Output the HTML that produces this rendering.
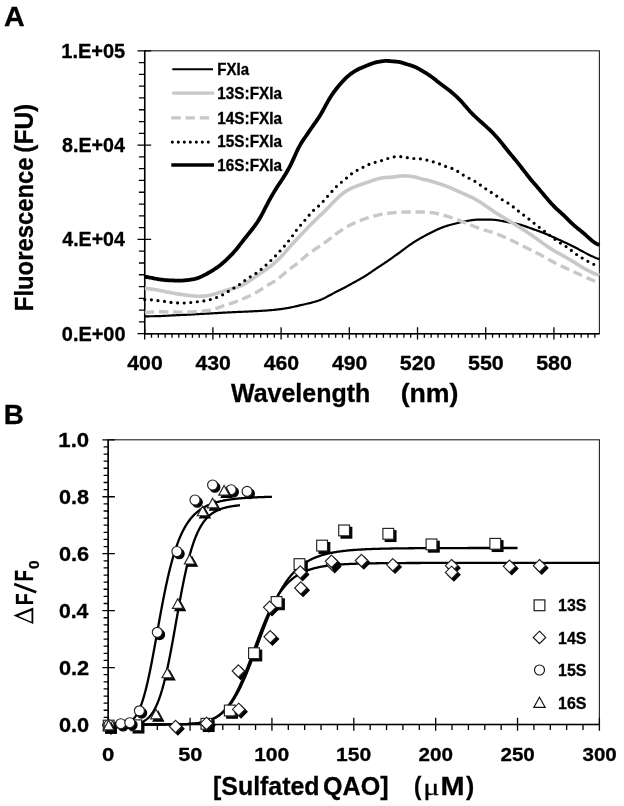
<!DOCTYPE html>
<html><head><meta charset="utf-8"><title>Fluorescence figure</title><style>
html,body{margin:0;padding:0;background:#fff;width:624px;height:806px;overflow:hidden}
svg{display:block;will-change:transform}
text{font-family:"Liberation Sans",sans-serif;font-weight:bold;fill:#000;stroke:#000;stroke-width:0.3px}
</style></head><body>
<svg width="624" height="806" viewBox="0 0 624 806">
<rect x="0" y="0" width="624" height="806" fill="#fff"/>
<text x="4.08" y="26" font-size="27.25" textLength="20.7" lengthAdjust="spacingAndGlyphs">A</text>
<rect x="144.7" y="50.8" width="454.7" height="282.9" fill="none" stroke="#222" stroke-width="1.1"/>
<path d="M137.5,333.7H151.2 M138.9,321.91H144.7 M138.9,310.12H144.7 M138.9,298.34H144.7 M138.9,286.55H144.7 M138.9,274.76H144.7 M138.9,262.98H144.7 M138.9,251.19H144.7 M137.5,239.4H151.2 M138.9,227.61H144.7 M138.9,215.82H144.7 M138.9,204.04H144.7 M138.9,192.25H144.7 M138.9,180.46H144.7 M138.9,168.67H144.7 M138.9,156.89H144.7 M137.5,145.1H151.2 M138.9,133.31H144.7 M138.9,121.53H144.7 M138.9,109.74H144.7 M138.9,97.95H144.7 M138.9,86.16H144.7 M138.9,74.38H144.7 M138.9,62.59H144.7 M137.5,50.8H151.2 M144.7,327.2V339.5 M151.52,333.7V337.7 M158.34,333.7V337.7 M165.16,333.7V337.7 M171.98,333.7V337.7 M178.8,333.7V337.7 M185.62,333.7V337.7 M192.44,333.7V337.7 M199.26,333.7V337.7 M206.08,333.7V337.7 M212.9,327.2V339.5 M219.73,333.7V337.7 M226.55,333.7V337.7 M233.37,333.7V337.7 M240.19,333.7V337.7 M247.01,333.7V337.7 M253.83,333.7V337.7 M260.65,333.7V337.7 M267.47,333.7V337.7 M274.29,333.7V337.7 M281.11,327.2V339.5 M287.93,333.7V337.7 M294.75,333.7V337.7 M301.57,333.7V337.7 M308.39,333.7V337.7 M315.21,333.7V337.7 M322.03,333.7V337.7 M328.85,333.7V337.7 M335.67,333.7V337.7 M342.49,333.7V337.7 M349.31,327.2V339.5 M356.14,333.7V337.7 M362.96,333.7V337.7 M369.78,333.7V337.7 M376.6,333.7V337.7 M383.42,333.7V337.7 M390.24,333.7V337.7 M397.06,333.7V337.7 M403.88,333.7V337.7 M410.7,333.7V337.7 M417.52,327.2V339.5 M424.34,333.7V337.7 M431.16,333.7V337.7 M437.98,333.7V337.7 M444.8,333.7V337.7 M451.62,333.7V337.7 M458.44,333.7V337.7 M465.26,333.7V337.7 M472.08,333.7V337.7 M478.9,333.7V337.7 M485.72,327.2V339.5 M492.55,333.7V337.7 M499.37,333.7V337.7 M506.19,333.7V337.7 M513.01,333.7V337.7 M519.83,333.7V337.7 M526.65,333.7V337.7 M533.47,333.7V337.7 M540.29,333.7V337.7 M547.11,333.7V337.7 M553.93,327.2V339.5 M560.75,333.7V337.7 M567.57,333.7V337.7 M574.39,333.7V337.7 M581.21,333.7V337.7 M588.03,333.7V337.7 M594.85,333.7V337.7" stroke="#000" stroke-width="1.3" fill="none"/>
<path d="M144.7,50.8V333.7H599.4" stroke="#000" stroke-width="1.5" fill="none"/>
<text x="61.8" y="340.6" font-size="19.29" textLength="63.74" lengthAdjust="spacingAndGlyphs">0.E+00</text>
<text x="62.31" y="246.3" font-size="19.29" textLength="62.54" lengthAdjust="spacingAndGlyphs">4.E+04</text>
<text x="62.01" y="152" font-size="19.29" textLength="62.83" lengthAdjust="spacingAndGlyphs">8.E+04</text>
<text x="61.3" y="57.7" font-size="19.29" textLength="63.95" lengthAdjust="spacingAndGlyphs">1.E+05</text>
<text x="127.28" y="369.5" font-size="19.86" textLength="35.44" lengthAdjust="spacingAndGlyphs">400</text>
<text x="195.49" y="369.5" font-size="19.86" textLength="35.44" lengthAdjust="spacingAndGlyphs">430</text>
<text x="263.69" y="369.5" font-size="19.86" textLength="35.44" lengthAdjust="spacingAndGlyphs">460</text>
<text x="331.9" y="369.5" font-size="19.86" textLength="35.44" lengthAdjust="spacingAndGlyphs">490</text>
<text x="399.78" y="369.5" font-size="19.86" textLength="35.78" lengthAdjust="spacingAndGlyphs">520</text>
<text x="467.98" y="369.5" font-size="19.86" textLength="35.78" lengthAdjust="spacingAndGlyphs">550</text>
<text x="536.19" y="369.5" font-size="19.86" textLength="35.78" lengthAdjust="spacingAndGlyphs">580</text>
<text x="231" y="401.8" font-size="26.09" textLength="139.3" lengthAdjust="spacingAndGlyphs">Wavelength</text>
<text x="400.66" y="401.8" font-size="26.09" textLength="57.87" lengthAdjust="spacingAndGlyphs">(nm)</text>
<text transform="translate(32.5,309.6) rotate(-90)" x="-1.55" y="0" font-size="26.2" textLength="153.74" lengthAdjust="spacingAndGlyphs">Fluorescence</text>
<text transform="translate(32.5,151.5) rotate(-90)" x="-1.22" y="0" font-size="26.2" textLength="48.93" lengthAdjust="spacingAndGlyphs">(FU)</text>
<text x="217.33" y="75.1" font-size="16.38" textLength="31.65" lengthAdjust="spacingAndGlyphs">FXIa</text>
<text x="217.3" y="99" font-size="16.38" textLength="64.73" lengthAdjust="spacingAndGlyphs">13S:FXIa</text>
<text x="217.3" y="123.5" font-size="16.38" textLength="64.73" lengthAdjust="spacingAndGlyphs">14S:FXIa</text>
<text x="217.3" y="147.4" font-size="16.38" textLength="64.73" lengthAdjust="spacingAndGlyphs">15S:FXIa</text>
<text x="217.3" y="171.2" font-size="16.38" textLength="64.73" lengthAdjust="spacingAndGlyphs">16S:FXIa</text>
<path d="M172.3,69.2H213" stroke="#000" stroke-width="2" fill="none"/>
<path d="M172.3,93.1H214" stroke="#c8c8c8" stroke-width="3.4" fill="none"/>
<path d="M171.3,117.9H210" stroke="#c8c8c8" stroke-width="3.4" fill="none" stroke-dasharray="9.4 4.8"/>
<path d="M172.3,142.1H208.5" stroke="#000" stroke-width="3.1" fill="none" stroke-dasharray="0 6" stroke-linecap="round"/>
<path d="M171.3,165.0H214" stroke="#000" stroke-width="3.6" fill="none"/>
<g fill="none" stroke-linejoin="round">
<path d="M144.8,316.29 L145.8,316.29 L146.8,316.29 L147.8,316.29 L148.8,316.28 L149.8,316.27 L150.8,316.27 L151.8,316.26 L152.8,316.25 L153.8,316.24 L154.8,316.22 L155.8,316.21 L156.8,316.19 L157.8,316.16 L158.8,316.13 L159.8,316.1 L160.8,316.06 L161.8,316.01 L162.8,315.97 L163.8,315.91 L164.8,315.85 L165.8,315.79 L166.8,315.73 L167.8,315.67 L168.8,315.61 L169.8,315.55 L170.8,315.49 L171.8,315.44 L172.8,315.39 L173.8,315.34 L174.8,315.29 L175.8,315.24 L176.8,315.2 L177.8,315.15 L178.8,315.11 L179.8,315.07 L180.8,315.02 L181.8,314.98 L182.8,314.94 L183.8,314.89 L184.8,314.84 L185.8,314.79 L186.8,314.75 L187.8,314.69 L188.8,314.64 L189.8,314.59 L190.8,314.53 L191.8,314.48 L192.8,314.42 L193.8,314.36 L194.8,314.3 L195.8,314.25 L196.8,314.19 L197.8,314.13 L198.8,314.07 L199.8,314.02 L200.8,313.96 L201.8,313.91 L202.8,313.85 L203.8,313.8 L204.8,313.75 L205.8,313.69 L206.8,313.64 L207.8,313.59 L208.8,313.53 L209.8,313.48 L210.8,313.42 L211.8,313.37 L212.8,313.32 L213.8,313.26 L214.8,313.2 L215.8,313.14 L216.8,313.09 L217.8,313.03 L218.8,312.97 L219.8,312.91 L220.8,312.84 L221.8,312.78 L222.8,312.72 L223.8,312.66 L224.8,312.6 L225.8,312.54 L226.8,312.49 L227.8,312.43 L228.8,312.38 L229.8,312.33 L230.8,312.28 L231.8,312.23 L232.8,312.18 L233.8,312.14 L234.8,312.09 L235.8,312.05 L236.8,312.01 L237.8,311.97 L238.8,311.93 L239.8,311.89 L240.8,311.85 L241.8,311.81 L242.8,311.77 L243.8,311.73 L244.8,311.69 L245.8,311.64 L246.8,311.6 L247.8,311.56 L248.8,311.51 L249.8,311.47 L250.8,311.42 L251.8,311.37 L252.8,311.32 L253.8,311.27 L254.8,311.22 L255.8,311.17 L256.8,311.12 L257.8,311.07 L258.8,311.01 L259.8,310.95 L260.8,310.9 L261.8,310.84 L262.8,310.77 L263.8,310.71 L264.8,310.64 L265.8,310.57 L266.8,310.5 L267.8,310.43 L268.8,310.35 L269.8,310.26 L270.8,310.18 L271.8,310.09 L272.8,309.99 L273.8,309.89 L274.8,309.79 L275.8,309.68 L276.8,309.57 L277.8,309.45 L278.8,309.33 L279.8,309.2 L280.8,309.07 L281.8,308.94 L282.8,308.8 L283.8,308.65 L284.8,308.5 L285.8,308.34 L286.8,308.17 L287.8,308 L288.8,307.82 L289.8,307.62 L290.8,307.42 L291.8,307.21 L292.8,306.99 L293.8,306.77 L294.8,306.54 L295.8,306.31 L296.8,306.08 L297.8,305.84 L298.8,305.61 L299.8,305.38 L300.8,305.15 L301.8,304.93 L302.8,304.7 L303.8,304.48 L304.8,304.25 L305.8,304.02 L306.8,303.79 L307.8,303.55 L308.8,303.31 L309.8,303.07 L310.8,302.82 L311.8,302.57 L312.8,302.31 L313.8,302.03 L314.8,301.75 L315.8,301.46 L316.8,301.16 L317.8,300.83 L318.8,300.49 L319.8,300.12 L320.8,299.73 L321.8,299.32 L322.8,298.87 L323.8,298.4 L324.8,297.91 L325.8,297.39 L326.8,296.86 L327.8,296.32 L328.8,295.78 L329.8,295.23 L330.8,294.69 L331.8,294.16 L332.8,293.63 L333.8,293.11 L334.8,292.6 L335.8,292.1 L336.8,291.59 L337.8,291.09 L338.8,290.59 L339.8,290.08 L340.8,289.57 L341.8,289.06 L342.8,288.54 L343.8,288.01 L344.8,287.48 L345.8,286.94 L346.8,286.4 L347.8,285.85 L348.8,285.3 L349.8,284.75 L350.8,284.19 L351.8,283.63 L352.8,283.08 L353.8,282.53 L354.8,281.97 L355.8,281.42 L356.8,280.87 L357.8,280.32 L358.8,279.77 L359.8,279.21 L360.8,278.65 L361.8,278.08 L362.8,277.5 L363.8,276.91 L364.8,276.3 L365.8,275.68 L366.8,275.04 L367.8,274.38 L368.8,273.71 L369.8,273.03 L370.8,272.34 L371.8,271.64 L372.8,270.95 L373.8,270.25 L374.8,269.57 L375.8,268.88 L376.8,268.21 L377.8,267.53 L378.8,266.87 L379.8,266.21 L380.8,265.55 L381.8,264.89 L382.8,264.22 L383.8,263.56 L384.8,262.89 L385.8,262.22 L386.8,261.54 L387.8,260.86 L388.8,260.17 L389.8,259.48 L390.8,258.79 L391.8,258.08 L392.8,257.38 L393.8,256.66 L394.8,255.94 L395.8,255.22 L396.8,254.49 L397.8,253.75 L398.8,253.01 L399.8,252.27 L400.8,251.52 L401.8,250.78 L402.8,250.03 L403.8,249.28 L404.8,248.53 L405.8,247.79 L406.8,247.06 L407.8,246.34 L408.8,245.63 L409.8,244.93 L410.8,244.24 L411.8,243.57 L412.8,242.91 L413.8,242.27 L414.8,241.64 L415.8,241.02 L416.8,240.41 L417.8,239.81 L418.8,239.22 L419.8,238.64 L420.8,238.07 L421.8,237.5 L422.8,236.95 L423.8,236.4 L424.8,235.86 L425.8,235.32 L426.8,234.79 L427.8,234.27 L428.8,233.75 L429.8,233.23 L430.8,232.72 L431.8,232.22 L432.8,231.72 L433.8,231.22 L434.8,230.73 L435.8,230.25 L436.8,229.78 L437.8,229.31 L438.8,228.87 L439.8,228.43 L440.8,228.01 L441.8,227.61 L442.8,227.23 L443.8,226.87 L444.8,226.52 L445.8,226.19 L446.8,225.88 L447.8,225.58 L448.8,225.29 L449.8,225.01 L450.8,224.74 L451.8,224.47 L452.8,224.21 L453.8,223.96 L454.8,223.71 L455.8,223.46 L456.8,223.21 L457.8,222.96 L458.8,222.72 L459.8,222.49 L460.8,222.26 L461.8,222.03 L462.8,221.82 L463.8,221.61 L464.8,221.4 L465.8,221.21 L466.8,221.02 L467.8,220.84 L468.8,220.67 L469.8,220.5 L470.8,220.35 L471.8,220.21 L472.8,220.08 L473.8,219.96 L474.8,219.86 L475.8,219.77 L476.8,219.7 L477.8,219.64 L478.8,219.6 L479.8,219.57 L480.8,219.55 L481.8,219.54 L482.8,219.54 L483.8,219.54 L484.8,219.55 L485.8,219.56 L486.8,219.57 L487.8,219.58 L488.8,219.6 L489.8,219.62 L490.8,219.65 L491.8,219.69 L492.8,219.74 L493.8,219.8 L494.8,219.88 L495.8,219.98 L496.8,220.1 L497.8,220.24 L498.8,220.4 L499.8,220.58 L500.8,220.78 L501.8,220.98 L502.8,221.19 L503.8,221.39 L504.8,221.6 L505.8,221.79 L506.8,221.98 L507.8,222.16 L508.8,222.33 L509.8,222.5 L510.8,222.66 L511.8,222.83 L512.8,222.99 L513.8,223.17 L514.8,223.35 L515.8,223.55 L516.8,223.76 L517.8,224 L518.8,224.25 L519.8,224.53 L520.8,224.83 L521.8,225.14 L522.8,225.47 L523.8,225.81 L524.8,226.16 L525.8,226.51 L526.8,226.87 L527.8,227.23 L528.8,227.59 L529.8,227.94 L530.8,228.3 L531.8,228.65 L532.8,229 L533.8,229.35 L534.8,229.7 L535.8,230.06 L536.8,230.42 L537.8,230.78 L538.8,231.14 L539.8,231.52 L540.8,231.89 L541.8,232.28 L542.8,232.67 L543.8,233.06 L544.8,233.46 L545.8,233.87 L546.8,234.29 L547.8,234.71 L548.8,235.13 L549.8,235.57 L550.8,236.01 L551.8,236.45 L552.8,236.9 L553.8,237.36 L554.8,237.81 L555.8,238.27 L556.8,238.74 L557.8,239.2 L558.8,239.66 L559.8,240.12 L560.8,240.58 L561.8,241.04 L562.8,241.49 L563.8,241.94 L564.8,242.39 L565.8,242.84 L566.8,243.3 L567.8,243.76 L568.8,244.22 L569.8,244.69 L570.8,245.18 L571.8,245.67 L572.8,246.17 L573.8,246.68 L574.8,247.21 L575.8,247.74 L576.8,248.28 L577.8,248.83 L578.8,249.38 L579.8,249.93 L580.8,250.48 L581.8,251.02 L582.8,251.56 L583.8,252.1 L584.8,252.62 L585.8,253.15 L586.8,253.66 L587.8,254.18 L588.8,254.68 L589.8,255.18 L590.8,255.67 L591.8,256.15 L592.8,256.62 L593.8,257.08 L594.8,257.51 L595.8,257.92 L596.8,258.29 L597.8,258.62 L598.8,258.91 L599.4,259.15 L599.4,259.15" stroke="#000" stroke-width="2.2"/>
<path d="M144.8,288.33 L145.8,288.41 L146.8,288.49 L147.8,288.59 L148.8,288.7 L149.8,288.82 L150.8,288.96 L151.8,289.1 L152.8,289.25 L153.8,289.4 L154.8,289.57 L155.8,289.74 L156.8,289.91 L157.8,290.1 L158.8,290.29 L159.8,290.48 L160.8,290.68 L161.8,290.89 L162.8,291.09 L163.8,291.3 L164.8,291.51 L165.8,291.72 L166.8,291.92 L167.8,292.13 L168.8,292.33 L169.8,292.53 L170.8,292.72 L171.8,292.91 L172.8,293.09 L173.8,293.27 L174.8,293.44 L175.8,293.61 L176.8,293.78 L177.8,293.94 L178.8,294.1 L179.8,294.25 L180.8,294.4 L181.8,294.55 L182.8,294.69 L183.8,294.83 L184.8,294.96 L185.8,295.09 L186.8,295.22 L187.8,295.34 L188.8,295.46 L189.8,295.57 L190.8,295.68 L191.8,295.78 L192.8,295.88 L193.8,295.97 L194.8,296.05 L195.8,296.13 L196.8,296.18 L197.8,296.23 L198.8,296.26 L199.8,296.27 L200.8,296.26 L201.8,296.22 L202.8,296.17 L203.8,296.1 L204.8,296 L205.8,295.88 L206.8,295.75 L207.8,295.59 L208.8,295.41 L209.8,295.21 L210.8,295 L211.8,294.76 L212.8,294.51 L213.8,294.24 L214.8,293.96 L215.8,293.67 L216.8,293.36 L217.8,293.04 L218.8,292.72 L219.8,292.4 L220.8,292.07 L221.8,291.75 L222.8,291.42 L223.8,291.1 L224.8,290.79 L225.8,290.48 L226.8,290.18 L227.8,289.89 L228.8,289.6 L229.8,289.32 L230.8,289.05 L231.8,288.77 L232.8,288.49 L233.8,288.21 L234.8,287.92 L235.8,287.61 L236.8,287.29 L237.8,286.94 L238.8,286.57 L239.8,286.17 L240.8,285.74 L241.8,285.28 L242.8,284.78 L243.8,284.25 L244.8,283.69 L245.8,283.11 L246.8,282.5 L247.8,281.87 L248.8,281.23 L249.8,280.57 L250.8,279.9 L251.8,279.22 L252.8,278.53 L253.8,277.84 L254.8,277.15 L255.8,276.45 L256.8,275.76 L257.8,275.08 L258.8,274.4 L259.8,273.72 L260.8,273.05 L261.8,272.38 L262.8,271.71 L263.8,271.04 L264.8,270.37 L265.8,269.69 L266.8,268.99 L267.8,268.28 L268.8,267.56 L269.8,266.81 L270.8,266.04 L271.8,265.25 L272.8,264.44 L273.8,263.6 L274.8,262.74 L275.8,261.86 L276.8,260.95 L277.8,260.01 L278.8,259.05 L279.8,258.06 L280.8,257.04 L281.8,255.99 L282.8,254.92 L283.8,253.81 L284.8,252.68 L285.8,251.54 L286.8,250.37 L287.8,249.2 L288.8,248.04 L289.8,246.88 L290.8,245.73 L291.8,244.61 L292.8,243.5 L293.8,242.41 L294.8,241.34 L295.8,240.29 L296.8,239.24 L297.8,238.2 L298.8,237.16 L299.8,236.11 L300.8,235.06 L301.8,234 L302.8,232.94 L303.8,231.88 L304.8,230.81 L305.8,229.75 L306.8,228.69 L307.8,227.64 L308.8,226.6 L309.8,225.58 L310.8,224.56 L311.8,223.56 L312.8,222.58 L313.8,221.6 L314.8,220.63 L315.8,219.67 L316.8,218.71 L317.8,217.76 L318.8,216.81 L319.8,215.85 L320.8,214.9 L321.8,213.94 L322.8,212.97 L323.8,211.99 L324.8,211.01 L325.8,210.01 L326.8,208.99 L327.8,207.97 L328.8,206.93 L329.8,205.89 L330.8,204.85 L331.8,203.8 L332.8,202.76 L333.8,201.73 L334.8,200.71 L335.8,199.71 L336.8,198.74 L337.8,197.78 L338.8,196.86 L339.8,195.96 L340.8,195.1 L341.8,194.28 L342.8,193.49 L343.8,192.74 L344.8,192.03 L345.8,191.36 L346.8,190.73 L347.8,190.14 L348.8,189.58 L349.8,189.05 L350.8,188.55 L351.8,188.08 L352.8,187.64 L353.8,187.21 L354.8,186.8 L355.8,186.41 L356.8,186.03 L357.8,185.66 L358.8,185.3 L359.8,184.95 L360.8,184.6 L361.8,184.26 L362.8,183.91 L363.8,183.57 L364.8,183.22 L365.8,182.86 L366.8,182.51 L367.8,182.15 L368.8,181.8 L369.8,181.44 L370.8,181.09 L371.8,180.74 L372.8,180.4 L373.8,180.07 L374.8,179.75 L375.8,179.44 L376.8,179.15 L377.8,178.87 L378.8,178.61 L379.8,178.38 L380.8,178.17 L381.8,177.99 L382.8,177.84 L383.8,177.72 L384.8,177.63 L385.8,177.55 L386.8,177.49 L387.8,177.43 L388.8,177.37 L389.8,177.31 L390.8,177.23 L391.8,177.13 L392.8,177.02 L393.8,176.9 L394.8,176.77 L395.8,176.63 L396.8,176.5 L397.8,176.37 L398.8,176.25 L399.8,176.15 L400.8,176.06 L401.8,175.99 L402.8,175.94 L403.8,175.91 L404.8,175.9 L405.8,175.91 L406.8,175.94 L407.8,175.99 L408.8,176.07 L409.8,176.17 L410.8,176.29 L411.8,176.44 L412.8,176.62 L413.8,176.82 L414.8,177.05 L415.8,177.3 L416.8,177.56 L417.8,177.83 L418.8,178.11 L419.8,178.39 L420.8,178.66 L421.8,178.92 L422.8,179.17 L423.8,179.41 L424.8,179.64 L425.8,179.87 L426.8,180.09 L427.8,180.33 L428.8,180.57 L429.8,180.84 L430.8,181.11 L431.8,181.41 L432.8,181.72 L433.8,182.03 L434.8,182.36 L435.8,182.68 L436.8,183 L437.8,183.32 L438.8,183.63 L439.8,183.94 L440.8,184.26 L441.8,184.57 L442.8,184.89 L443.8,185.23 L444.8,185.58 L445.8,185.95 L446.8,186.33 L447.8,186.73 L448.8,187.15 L449.8,187.57 L450.8,188 L451.8,188.44 L452.8,188.88 L453.8,189.32 L454.8,189.77 L455.8,190.22 L456.8,190.66 L457.8,191.11 L458.8,191.56 L459.8,192.01 L460.8,192.46 L461.8,192.91 L462.8,193.36 L463.8,193.8 L464.8,194.25 L465.8,194.69 L466.8,195.14 L467.8,195.58 L468.8,196.04 L469.8,196.5 L470.8,196.97 L471.8,197.45 L472.8,197.95 L473.8,198.46 L474.8,198.99 L475.8,199.54 L476.8,200.11 L477.8,200.7 L478.8,201.31 L479.8,201.93 L480.8,202.57 L481.8,203.23 L482.8,203.89 L483.8,204.57 L484.8,205.25 L485.8,205.94 L486.8,206.63 L487.8,207.33 L488.8,208.02 L489.8,208.72 L490.8,209.41 L491.8,210.1 L492.8,210.79 L493.8,211.46 L494.8,212.13 L495.8,212.79 L496.8,213.44 L497.8,214.08 L498.8,214.71 L499.8,215.33 L500.8,215.94 L501.8,216.55 L502.8,217.16 L503.8,217.76 L504.8,218.36 L505.8,218.96 L506.8,219.56 L507.8,220.15 L508.8,220.75 L509.8,221.35 L510.8,221.94 L511.8,222.54 L512.8,223.14 L513.8,223.75 L514.8,224.36 L515.8,224.97 L516.8,225.58 L517.8,226.2 L518.8,226.82 L519.8,227.45 L520.8,228.08 L521.8,228.72 L522.8,229.36 L523.8,230.01 L524.8,230.66 L525.8,231.32 L526.8,231.98 L527.8,232.65 L528.8,233.32 L529.8,233.99 L530.8,234.67 L531.8,235.35 L532.8,236.04 L533.8,236.73 L534.8,237.43 L535.8,238.14 L536.8,238.84 L537.8,239.56 L538.8,240.27 L539.8,240.99 L540.8,241.72 L541.8,242.44 L542.8,243.17 L543.8,243.89 L544.8,244.61 L545.8,245.32 L546.8,246.02 L547.8,246.71 L548.8,247.39 L549.8,248.05 L550.8,248.69 L551.8,249.32 L552.8,249.93 L553.8,250.53 L554.8,251.12 L555.8,251.69 L556.8,252.26 L557.8,252.82 L558.8,253.38 L559.8,253.93 L560.8,254.49 L561.8,255.04 L562.8,255.59 L563.8,256.14 L564.8,256.7 L565.8,257.26 L566.8,257.82 L567.8,258.39 L568.8,258.96 L569.8,259.55 L570.8,260.14 L571.8,260.74 L572.8,261.35 L573.8,261.97 L574.8,262.6 L575.8,263.23 L576.8,263.87 L577.8,264.51 L578.8,265.15 L579.8,265.78 L580.8,266.4 L581.8,267.02 L582.8,267.62 L583.8,268.21 L584.8,268.79 L585.8,269.36 L586.8,269.91 L587.8,270.45 L588.8,270.97 L589.8,271.49 L590.8,271.98 L591.8,272.47 L592.8,272.93 L593.8,273.37 L594.8,273.78 L595.8,274.16 L596.8,274.51 L597.8,274.81 L598.8,275.08 L599.4,275.31 L599.4,275.31" stroke="#c8c8c8" stroke-width="3.6"/>
<path d="M144.8,312.45 L145.8,312.4 L146.8,312.34 L147.8,312.28 L148.8,312.21 L149.8,312.15 L150.8,312.08 L151.8,312.02 L152.8,311.96 L153.8,311.91 L154.8,311.87 L155.8,311.83 L156.8,311.8 L157.8,311.78 L158.8,311.77 L159.8,311.76 L160.8,311.76 L161.8,311.77 L162.8,311.78 L163.8,311.8 L164.8,311.82 L165.8,311.84 L166.8,311.86 L167.8,311.89 L168.8,311.91 L169.8,311.94 L170.8,311.96 L171.8,311.99 L172.8,312.01 L173.8,312.03 L174.8,312.05 L175.8,312.07 L176.8,312.09 L177.8,312.11 L178.8,312.12 L179.8,312.13 L180.8,312.14 L181.8,312.15 L182.8,312.15 L183.8,312.15 L184.8,312.14 L185.8,312.13 L186.8,312.11 L187.8,312.08 L188.8,312.04 L189.8,312 L190.8,311.95 L191.8,311.89 L192.8,311.83 L193.8,311.76 L194.8,311.7 L195.8,311.62 L196.8,311.55 L197.8,311.47 L198.8,311.39 L199.8,311.32 L200.8,311.24 L201.8,311.15 L202.8,311.07 L203.8,310.98 L204.8,310.88 L205.8,310.78 L206.8,310.67 L207.8,310.54 L208.8,310.4 L209.8,310.24 L210.8,310.05 L211.8,309.84 L212.8,309.59 L213.8,309.32 L214.8,309.01 L215.8,308.68 L216.8,308.33 L217.8,307.96 L218.8,307.57 L219.8,307.19 L220.8,306.81 L221.8,306.43 L222.8,306.06 L223.8,305.71 L224.8,305.37 L225.8,305.04 L226.8,304.72 L227.8,304.41 L228.8,304.1 L229.8,303.79 L230.8,303.48 L231.8,303.16 L232.8,302.83 L233.8,302.49 L234.8,302.14 L235.8,301.77 L236.8,301.39 L237.8,300.99 L238.8,300.59 L239.8,300.17 L240.8,299.75 L241.8,299.33 L242.8,298.9 L243.8,298.47 L244.8,298.04 L245.8,297.61 L246.8,297.17 L247.8,296.73 L248.8,296.28 L249.8,295.82 L250.8,295.35 L251.8,294.86 L252.8,294.36 L253.8,293.83 L254.8,293.28 L255.8,292.71 L256.8,292.12 L257.8,291.52 L258.8,290.89 L259.8,290.25 L260.8,289.6 L261.8,288.95 L262.8,288.29 L263.8,287.63 L264.8,286.99 L265.8,286.36 L266.8,285.75 L267.8,285.15 L268.8,284.57 L269.8,284 L270.8,283.44 L271.8,282.88 L272.8,282.3 L273.8,281.7 L274.8,281.07 L275.8,280.41 L276.8,279.71 L277.8,278.97 L278.8,278.2 L279.8,277.39 L280.8,276.56 L281.8,275.71 L282.8,274.84 L283.8,273.96 L284.8,273.09 L285.8,272.22 L286.8,271.37 L287.8,270.54 L288.8,269.73 L289.8,268.95 L290.8,268.2 L291.8,267.46 L292.8,266.73 L293.8,266.01 L294.8,265.27 L295.8,264.52 L296.8,263.74 L297.8,262.92 L298.8,262.08 L299.8,261.22 L300.8,260.34 L301.8,259.45 L302.8,258.56 L303.8,257.69 L304.8,256.83 L305.8,256 L306.8,255.2 L307.8,254.42 L308.8,253.67 L309.8,252.93 L310.8,252.22 L311.8,251.51 L312.8,250.82 L313.8,250.13 L314.8,249.45 L315.8,248.77 L316.8,248.1 L317.8,247.42 L318.8,246.75 L319.8,246.07 L320.8,245.39 L321.8,244.7 L322.8,244.01 L323.8,243.3 L324.8,242.59 L325.8,241.86 L326.8,241.12 L327.8,240.36 L328.8,239.6 L329.8,238.83 L330.8,238.05 L331.8,237.28 L332.8,236.5 L333.8,235.73 L334.8,234.97 L335.8,234.21 L336.8,233.47 L337.8,232.74 L338.8,232.03 L339.8,231.33 L340.8,230.64 L341.8,229.97 L342.8,229.32 L343.8,228.68 L344.8,228.06 L345.8,227.46 L346.8,226.89 L347.8,226.32 L348.8,225.78 L349.8,225.26 L350.8,224.75 L351.8,224.26 L352.8,223.78 L353.8,223.31 L354.8,222.85 L355.8,222.4 L356.8,221.97 L357.8,221.54 L358.8,221.12 L359.8,220.71 L360.8,220.31 L361.8,219.92 L362.8,219.53 L363.8,219.16 L364.8,218.8 L365.8,218.46 L366.8,218.12 L367.8,217.79 L368.8,217.47 L369.8,217.16 L370.8,216.87 L371.8,216.58 L372.8,216.3 L373.8,216.04 L374.8,215.78 L375.8,215.53 L376.8,215.3 L377.8,215.08 L378.8,214.87 L379.8,214.67 L380.8,214.47 L381.8,214.29 L382.8,214.12 L383.8,213.96 L384.8,213.8 L385.8,213.65 L386.8,213.51 L387.8,213.38 L388.8,213.26 L389.8,213.14 L390.8,213.03 L391.8,212.92 L392.8,212.82 L393.8,212.72 L394.8,212.63 L395.8,212.55 L396.8,212.47 L397.8,212.4 L398.8,212.33 L399.8,212.27 L400.8,212.21 L401.8,212.16 L402.8,212.12 L403.8,212.09 L404.8,212.06 L405.8,212.04 L406.8,212.03 L407.8,212.02 L408.8,212.01 L409.8,212.01 L410.8,212 L411.8,212 L412.8,212 L413.8,212 L414.8,212 L415.8,212.01 L416.8,212.01 L417.8,212.02 L418.8,212.02 L419.8,212.03 L420.8,212.05 L421.8,212.06 L422.8,212.09 L423.8,212.11 L424.8,212.14 L425.8,212.18 L426.8,212.23 L427.8,212.28 L428.8,212.35 L429.8,212.43 L430.8,212.53 L431.8,212.65 L432.8,212.79 L433.8,212.94 L434.8,213.11 L435.8,213.3 L436.8,213.51 L437.8,213.73 L438.8,213.96 L439.8,214.2 L440.8,214.45 L441.8,214.71 L442.8,214.98 L443.8,215.25 L444.8,215.54 L445.8,215.83 L446.8,216.13 L447.8,216.44 L448.8,216.75 L449.8,217.08 L450.8,217.41 L451.8,217.75 L452.8,218.09 L453.8,218.44 L454.8,218.8 L455.8,219.17 L456.8,219.54 L457.8,219.91 L458.8,220.3 L459.8,220.68 L460.8,221.07 L461.8,221.46 L462.8,221.86 L463.8,222.25 L464.8,222.65 L465.8,223.05 L466.8,223.45 L467.8,223.85 L468.8,224.25 L469.8,224.66 L470.8,225.06 L471.8,225.46 L472.8,225.86 L473.8,226.26 L474.8,226.65 L475.8,227.04 L476.8,227.42 L477.8,227.8 L478.8,228.16 L479.8,228.52 L480.8,228.86 L481.8,229.19 L482.8,229.52 L483.8,229.83 L484.8,230.13 L485.8,230.43 L486.8,230.73 L487.8,231.02 L488.8,231.32 L489.8,231.62 L490.8,231.92 L491.8,232.23 L492.8,232.55 L493.8,232.88 L494.8,233.23 L495.8,233.59 L496.8,233.96 L497.8,234.34 L498.8,234.73 L499.8,235.14 L500.8,235.55 L501.8,235.98 L502.8,236.41 L503.8,236.85 L504.8,237.3 L505.8,237.75 L506.8,238.21 L507.8,238.68 L508.8,239.15 L509.8,239.62 L510.8,240.09 L511.8,240.57 L512.8,241.05 L513.8,241.53 L514.8,242.02 L515.8,242.51 L516.8,242.99 L517.8,243.48 L518.8,243.97 L519.8,244.47 L520.8,244.96 L521.8,245.46 L522.8,245.95 L523.8,246.45 L524.8,246.95 L525.8,247.44 L526.8,247.94 L527.8,248.44 L528.8,248.93 L529.8,249.43 L530.8,249.92 L531.8,250.42 L532.8,250.92 L533.8,251.42 L534.8,251.92 L535.8,252.43 L536.8,252.95 L537.8,253.47 L538.8,254 L539.8,254.53 L540.8,255.08 L541.8,255.63 L542.8,256.19 L543.8,256.75 L544.8,257.32 L545.8,257.88 L546.8,258.45 L547.8,259.01 L548.8,259.56 L549.8,260.11 L550.8,260.66 L551.8,261.19 L552.8,261.72 L553.8,262.24 L554.8,262.75 L555.8,263.26 L556.8,263.76 L557.8,264.26 L558.8,264.75 L559.8,265.24 L560.8,265.73 L561.8,266.21 L562.8,266.68 L563.8,267.16 L564.8,267.63 L565.8,268.09 L566.8,268.56 L567.8,269.02 L568.8,269.47 L569.8,269.93 L570.8,270.39 L571.8,270.84 L572.8,271.29 L573.8,271.75 L574.8,272.21 L575.8,272.67 L576.8,273.13 L577.8,273.59 L578.8,274.05 L579.8,274.51 L580.8,274.98 L581.8,275.44 L582.8,275.9 L583.8,276.36 L584.8,276.82 L585.8,277.28 L586.8,277.73 L587.8,278.19 L588.8,278.63 L589.8,279.07 L590.8,279.51 L591.8,279.94 L592.8,280.36 L593.8,280.76 L594.8,281.15 L595.8,281.51 L596.8,281.84 L597.8,282.14 L598.8,282.4 L599.4,282.61 L599.4,282.61" stroke="#c8c8c8" stroke-width="3.4" stroke-dasharray="9.4 4.8"/>
<path d="M144.8,299.54 L145.8,299.56 L146.8,299.59 L147.8,299.63 L148.8,299.68 L149.8,299.74 L150.8,299.81 L151.8,299.9 L152.8,299.99 L153.8,300.1 L154.8,300.22 L155.8,300.35 L156.8,300.49 L157.8,300.63 L158.8,300.76 L159.8,300.89 L160.8,301.01 L161.8,301.12 L162.8,301.22 L163.8,301.33 L164.8,301.44 L165.8,301.56 L166.8,301.7 L167.8,301.86 L168.8,302.03 L169.8,302.21 L170.8,302.38 L171.8,302.54 L172.8,302.67 L173.8,302.77 L174.8,302.83 L175.8,302.86 L176.8,302.88 L177.8,302.88 L178.8,302.88 L179.8,302.89 L180.8,302.91 L181.8,302.94 L182.8,302.97 L183.8,302.99 L184.8,303.01 L185.8,302.99 L186.8,302.95 L187.8,302.88 L188.8,302.78 L189.8,302.65 L190.8,302.51 L191.8,302.37 L192.8,302.24 L193.8,302.11 L194.8,302 L195.8,301.9 L196.8,301.81 L197.8,301.71 L198.8,301.61 L199.8,301.51 L200.8,301.39 L201.8,301.25 L202.8,301.11 L203.8,300.95 L204.8,300.77 L205.8,300.58 L206.8,300.38 L207.8,300.16 L208.8,299.93 L209.8,299.68 L210.8,299.42 L211.8,299.14 L212.8,298.83 L213.8,298.51 L214.8,298.17 L215.8,297.81 L216.8,297.42 L217.8,297.02 L218.8,296.61 L219.8,296.17 L220.8,295.71 L221.8,295.22 L222.8,294.71 L223.8,294.16 L224.8,293.59 L225.8,292.97 L226.8,292.34 L227.8,291.69 L228.8,291.04 L229.8,290.4 L230.8,289.78 L231.8,289.18 L232.8,288.6 L233.8,288.04 L234.8,287.47 L235.8,286.9 L236.8,286.3 L237.8,285.68 L238.8,285.02 L239.8,284.32 L240.8,283.6 L241.8,282.85 L242.8,282.07 L243.8,281.29 L244.8,280.52 L245.8,279.76 L246.8,279.03 L247.8,278.35 L248.8,277.7 L249.8,277.09 L250.8,276.5 L251.8,275.93 L252.8,275.36 L253.8,274.77 L254.8,274.16 L255.8,273.53 L256.8,272.85 L257.8,272.14 L258.8,271.39 L259.8,270.61 L260.8,269.78 L261.8,268.92 L262.8,268.03 L263.8,267.13 L264.8,266.21 L265.8,265.27 L266.8,264.34 L267.8,263.4 L268.8,262.45 L269.8,261.5 L270.8,260.54 L271.8,259.57 L272.8,258.59 L273.8,257.59 L274.8,256.58 L275.8,255.54 L276.8,254.49 L277.8,253.42 L278.8,252.34 L279.8,251.24 L280.8,250.13 L281.8,249.01 L282.8,247.87 L283.8,246.72 L284.8,245.54 L285.8,244.36 L286.8,243.17 L287.8,241.96 L288.8,240.75 L289.8,239.5 L290.8,238.21 L291.8,236.86 L292.8,235.45 L293.8,233.99 L294.8,232.53 L295.8,231.11 L296.8,229.75 L297.8,228.48 L298.8,227.29 L299.8,226.15 L300.8,225.02 L301.8,223.87 L302.8,222.7 L303.8,221.51 L304.8,220.32 L305.8,219.13 L306.8,217.95 L307.8,216.79 L308.8,215.62 L309.8,214.46 L310.8,213.29 L311.8,212.14 L312.8,211.05 L313.8,210.02 L314.8,209.09 L315.8,208.24 L316.8,207.45 L317.8,206.67 L318.8,205.85 L319.8,204.96 L320.8,203.99 L321.8,202.93 L322.8,201.8 L323.8,200.64 L324.8,199.48 L325.8,198.32 L326.8,197.18 L327.8,196.06 L328.8,194.94 L329.8,193.83 L330.8,192.72 L331.8,191.6 L332.8,190.48 L333.8,189.37 L334.8,188.28 L335.8,187.22 L336.8,186.21 L337.8,185.25 L338.8,184.35 L339.8,183.5 L340.8,182.69 L341.8,181.89 L342.8,181.1 L343.8,180.3 L344.8,179.49 L345.8,178.66 L346.8,177.82 L347.8,176.96 L348.8,176.09 L349.8,175.24 L350.8,174.4 L351.8,173.61 L352.8,172.87 L353.8,172.19 L354.8,171.56 L355.8,170.99 L356.8,170.46 L357.8,169.95 L358.8,169.46 L359.8,168.96 L360.8,168.46 L361.8,167.95 L362.8,167.43 L363.8,166.91 L364.8,166.4 L365.8,165.89 L366.8,165.39 L367.8,164.92 L368.8,164.47 L369.8,164.05 L370.8,163.66 L371.8,163.31 L372.8,162.99 L373.8,162.69 L374.8,162.42 L375.8,162.16 L376.8,161.9 L377.8,161.63 L378.8,161.36 L379.8,161.08 L380.8,160.79 L381.8,160.48 L382.8,160.17 L383.8,159.84 L384.8,159.51 L385.8,159.17 L386.8,158.83 L387.8,158.5 L388.8,158.18 L389.8,157.87 L390.8,157.59 L391.8,157.34 L392.8,157.11 L393.8,156.92 L394.8,156.77 L395.8,156.66 L396.8,156.59 L397.8,156.57 L398.8,156.57 L399.8,156.61 L400.8,156.68 L401.8,156.77 L402.8,156.9 L403.8,157.04 L404.8,157.2 L405.8,157.38 L406.8,157.57 L407.8,157.75 L408.8,157.93 L409.8,158.09 L410.8,158.23 L411.8,158.34 L412.8,158.43 L413.8,158.5 L414.8,158.55 L415.8,158.58 L416.8,158.61 L417.8,158.64 L418.8,158.69 L419.8,158.75 L420.8,158.85 L421.8,158.97 L422.8,159.13 L423.8,159.31 L424.8,159.53 L425.8,159.77 L426.8,160.02 L427.8,160.29 L428.8,160.56 L429.8,160.85 L430.8,161.13 L431.8,161.42 L432.8,161.71 L433.8,162 L434.8,162.3 L435.8,162.6 L436.8,162.92 L437.8,163.26 L438.8,163.62 L439.8,164.01 L440.8,164.43 L441.8,164.86 L442.8,165.29 L443.8,165.72 L444.8,166.12 L445.8,166.49 L446.8,166.83 L447.8,167.14 L448.8,167.43 L449.8,167.72 L450.8,168.03 L451.8,168.37 L452.8,168.76 L453.8,169.21 L454.8,169.71 L455.8,170.26 L456.8,170.86 L457.8,171.49 L458.8,172.15 L459.8,172.83 L460.8,173.5 L461.8,174.17 L462.8,174.82 L463.8,175.44 L464.8,176.02 L465.8,176.58 L466.8,177.11 L467.8,177.62 L468.8,178.11 L469.8,178.6 L470.8,179.1 L471.8,179.6 L472.8,180.11 L473.8,180.66 L474.8,181.23 L475.8,181.85 L476.8,182.5 L477.8,183.19 L478.8,183.9 L479.8,184.63 L480.8,185.36 L481.8,186.08 L482.8,186.78 L483.8,187.46 L484.8,188.13 L485.8,188.79 L486.8,189.44 L487.8,190.09 L488.8,190.75 L489.8,191.41 L490.8,192.07 L491.8,192.74 L492.8,193.42 L493.8,194.1 L494.8,194.78 L495.8,195.46 L496.8,196.14 L497.8,196.82 L498.8,197.49 L499.8,198.16 L500.8,198.81 L501.8,199.45 L502.8,200.07 L503.8,200.68 L504.8,201.27 L505.8,201.86 L506.8,202.44 L507.8,203.03 L508.8,203.65 L509.8,204.3 L510.8,205 L511.8,205.74 L512.8,206.52 L513.8,207.33 L514.8,208.15 L515.8,208.98 L516.8,209.81 L517.8,210.61 L518.8,211.41 L519.8,212.19 L520.8,212.95 L521.8,213.71 L522.8,214.46 L523.8,215.2 L524.8,215.95 L525.8,216.71 L526.8,217.47 L527.8,218.24 L528.8,219.02 L529.8,219.81 L530.8,220.61 L531.8,221.41 L532.8,222.21 L533.8,223.01 L534.8,223.81 L535.8,224.6 L536.8,225.4 L537.8,226.19 L538.8,226.97 L539.8,227.75 L540.8,228.53 L541.8,229.3 L542.8,230.07 L543.8,230.84 L544.8,231.61 L545.8,232.38 L546.8,233.14 L547.8,233.9 L548.8,234.66 L549.8,235.42 L550.8,236.18 L551.8,236.93 L552.8,237.68 L553.8,238.43 L554.8,239.17 L555.8,239.9 L556.8,240.62 L557.8,241.32 L558.8,242 L559.8,242.65 L560.8,243.28 L561.8,243.9 L562.8,244.51 L563.8,245.11 L564.8,245.73 L565.8,246.37 L566.8,247.03 L567.8,247.72 L568.8,248.44 L569.8,249.2 L570.8,249.98 L571.8,250.79 L572.8,251.6 L573.8,252.41 L574.8,253.19 L575.8,253.94 L576.8,254.65 L577.8,255.32 L578.8,255.95 L579.8,256.56 L580.8,257.16 L581.8,257.76 L582.8,258.36 L583.8,258.96 L584.8,259.56 L585.8,260.15 L586.8,260.73 L587.8,261.28 L588.8,261.82 L589.8,262.34 L590.8,262.85 L591.8,263.35 L592.8,263.84 L593.8,264.33 L594.8,264.82 L595.8,265.29 L596.8,265.73 L597.8,266.13 L598.8,266.48 L599.4,266.75 L599.4,266.75" stroke="#000" stroke-width="3.2" stroke-dasharray="0 6.6" stroke-linecap="round"/>
<path d="M144.8,276.72 L145.8,276.85 L146.8,277 L147.8,277.17 L148.8,277.36 L149.8,277.55 L150.8,277.75 L151.8,277.96 L152.8,278.16 L153.8,278.36 L154.8,278.56 L155.8,278.75 L156.8,278.94 L157.8,279.12 L158.8,279.29 L159.8,279.45 L160.8,279.6 L161.8,279.74 L162.8,279.86 L163.8,279.96 L164.8,280.05 L165.8,280.12 L166.8,280.18 L167.8,280.24 L168.8,280.29 L169.8,280.33 L170.8,280.38 L171.8,280.42 L172.8,280.47 L173.8,280.51 L174.8,280.56 L175.8,280.6 L176.8,280.63 L177.8,280.65 L178.8,280.66 L179.8,280.66 L180.8,280.63 L181.8,280.59 L182.8,280.53 L183.8,280.45 L184.8,280.36 L185.8,280.26 L186.8,280.15 L187.8,280.03 L188.8,279.9 L189.8,279.76 L190.8,279.62 L191.8,279.46 L192.8,279.29 L193.8,279.09 L194.8,278.87 L195.8,278.61 L196.8,278.33 L197.8,278 L198.8,277.64 L199.8,277.25 L200.8,276.82 L201.8,276.36 L202.8,275.89 L203.8,275.39 L204.8,274.88 L205.8,274.35 L206.8,273.81 L207.8,273.26 L208.8,272.69 L209.8,272.11 L210.8,271.52 L211.8,270.91 L212.8,270.3 L213.8,269.66 L214.8,269.02 L215.8,268.35 L216.8,267.66 L217.8,266.95 L218.8,266.22 L219.8,265.45 L220.8,264.66 L221.8,263.85 L222.8,263 L223.8,262.13 L224.8,261.23 L225.8,260.31 L226.8,259.37 L227.8,258.42 L228.8,257.44 L229.8,256.45 L230.8,255.44 L231.8,254.4 L232.8,253.33 L233.8,252.24 L234.8,251.11 L235.8,249.94 L236.8,248.74 L237.8,247.5 L238.8,246.23 L239.8,244.94 L240.8,243.64 L241.8,242.33 L242.8,241.03 L243.8,239.74 L244.8,238.47 L245.8,237.2 L246.8,235.96 L247.8,234.72 L248.8,233.48 L249.8,232.25 L250.8,231 L251.8,229.74 L252.8,228.46 L253.8,227.15 L254.8,225.8 L255.8,224.41 L256.8,222.97 L257.8,221.46 L258.8,219.87 L259.8,218.2 L260.8,216.46 L261.8,214.65 L262.8,212.78 L263.8,210.86 L264.8,208.93 L265.8,206.98 L266.8,205.03 L267.8,203.11 L268.8,201.22 L269.8,199.37 L270.8,197.56 L271.8,195.8 L272.8,194.08 L273.8,192.4 L274.8,190.76 L275.8,189.16 L276.8,187.59 L277.8,186.04 L278.8,184.5 L279.8,182.98 L280.8,181.47 L281.8,179.95 L282.8,178.42 L283.8,176.87 L284.8,175.29 L285.8,173.66 L286.8,171.98 L287.8,170.24 L288.8,168.43 L289.8,166.54 L290.8,164.56 L291.8,162.49 L292.8,160.34 L293.8,158.14 L294.8,155.9 L295.8,153.68 L296.8,151.5 L297.8,149.41 L298.8,147.43 L299.8,145.58 L300.8,143.84 L301.8,142.21 L302.8,140.65 L303.8,139.16 L304.8,137.7 L305.8,136.25 L306.8,134.8 L307.8,133.36 L308.8,131.9 L309.8,130.44 L310.8,128.98 L311.8,127.53 L312.8,126.09 L313.8,124.66 L314.8,123.24 L315.8,121.82 L316.8,120.38 L317.8,118.93 L318.8,117.43 L319.8,115.87 L320.8,114.23 L321.8,112.53 L322.8,110.75 L323.8,108.92 L324.8,107.06 L325.8,105.19 L326.8,103.35 L327.8,101.55 L328.8,99.81 L329.8,98.15 L330.8,96.56 L331.8,95.05 L332.8,93.59 L333.8,92.19 L334.8,90.83 L335.8,89.52 L336.8,88.24 L337.8,86.99 L338.8,85.78 L339.8,84.6 L340.8,83.44 L341.8,82.32 L342.8,81.22 L343.8,80.16 L344.8,79.14 L345.8,78.16 L346.8,77.21 L347.8,76.31 L348.8,75.45 L349.8,74.64 L350.8,73.86 L351.8,73.13 L352.8,72.44 L353.8,71.78 L354.8,71.16 L355.8,70.58 L356.8,70.02 L357.8,69.5 L358.8,69.01 L359.8,68.54 L360.8,68.09 L361.8,67.66 L362.8,67.24 L363.8,66.83 L364.8,66.42 L365.8,66.01 L366.8,65.6 L367.8,65.19 L368.8,64.78 L369.8,64.38 L370.8,64 L371.8,63.63 L372.8,63.29 L373.8,62.98 L374.8,62.69 L375.8,62.43 L376.8,62.19 L377.8,61.98 L378.8,61.78 L379.8,61.6 L380.8,61.43 L381.8,61.28 L382.8,61.15 L383.8,61.04 L384.8,60.97 L385.8,60.93 L386.8,60.92 L387.8,60.96 L388.8,61.02 L389.8,61.1 L390.8,61.18 L391.8,61.27 L392.8,61.35 L393.8,61.43 L394.8,61.5 L395.8,61.58 L396.8,61.67 L397.8,61.8 L398.8,61.95 L399.8,62.14 L400.8,62.38 L401.8,62.64 L402.8,62.94 L403.8,63.25 L404.8,63.57 L405.8,63.88 L406.8,64.2 L407.8,64.5 L408.8,64.8 L409.8,65.11 L410.8,65.42 L411.8,65.74 L412.8,66.09 L413.8,66.47 L414.8,66.88 L415.8,67.33 L416.8,67.82 L417.8,68.33 L418.8,68.87 L419.8,69.44 L420.8,70.01 L421.8,70.59 L422.8,71.18 L423.8,71.78 L424.8,72.38 L425.8,72.99 L426.8,73.61 L427.8,74.25 L428.8,74.91 L429.8,75.6 L430.8,76.3 L431.8,77.03 L432.8,77.78 L433.8,78.55 L434.8,79.33 L435.8,80.11 L436.8,80.89 L437.8,81.66 L438.8,82.43 L439.8,83.19 L440.8,83.95 L441.8,84.69 L442.8,85.43 L443.8,86.18 L444.8,86.92 L445.8,87.67 L446.8,88.43 L447.8,89.2 L448.8,89.98 L449.8,90.78 L450.8,91.59 L451.8,92.43 L452.8,93.28 L453.8,94.16 L454.8,95.05 L455.8,95.97 L456.8,96.91 L457.8,97.87 L458.8,98.86 L459.8,99.87 L460.8,100.92 L461.8,101.99 L462.8,103.1 L463.8,104.23 L464.8,105.39 L465.8,106.55 L466.8,107.72 L467.8,108.89 L468.8,110.03 L469.8,111.15 L470.8,112.23 L471.8,113.28 L472.8,114.3 L473.8,115.29 L474.8,116.25 L475.8,117.19 L476.8,118.11 L477.8,119.03 L478.8,119.93 L479.8,120.83 L480.8,121.72 L481.8,122.62 L482.8,123.51 L483.8,124.4 L484.8,125.3 L485.8,126.2 L486.8,127.12 L487.8,128.04 L488.8,128.99 L489.8,129.94 L490.8,130.92 L491.8,131.92 L492.8,132.93 L493.8,133.97 L494.8,135.03 L495.8,136.11 L496.8,137.22 L497.8,138.35 L498.8,139.51 L499.8,140.71 L500.8,141.92 L501.8,143.17 L502.8,144.43 L503.8,145.71 L504.8,147 L505.8,148.28 L506.8,149.54 L507.8,150.79 L508.8,152.02 L509.8,153.23 L510.8,154.43 L511.8,155.62 L512.8,156.8 L513.8,157.99 L514.8,159.18 L515.8,160.39 L516.8,161.62 L517.8,162.86 L518.8,164.12 L519.8,165.39 L520.8,166.68 L521.8,167.98 L522.8,169.29 L523.8,170.6 L524.8,171.91 L525.8,173.21 L526.8,174.5 L527.8,175.78 L528.8,177.04 L529.8,178.28 L530.8,179.5 L531.8,180.71 L532.8,181.89 L533.8,183.06 L534.8,184.22 L535.8,185.37 L536.8,186.52 L537.8,187.67 L538.8,188.83 L539.8,189.99 L540.8,191.17 L541.8,192.36 L542.8,193.55 L543.8,194.75 L544.8,195.95 L545.8,197.14 L546.8,198.32 L547.8,199.49 L548.8,200.65 L549.8,201.78 L550.8,202.9 L551.8,203.99 L552.8,205.05 L553.8,206.1 L554.8,207.11 L555.8,208.09 L556.8,209.05 L557.8,209.98 L558.8,210.89 L559.8,211.78 L560.8,212.68 L561.8,213.59 L562.8,214.51 L563.8,215.45 L564.8,216.41 L565.8,217.39 L566.8,218.39 L567.8,219.39 L568.8,220.39 L569.8,221.38 L570.8,222.36 L571.8,223.3 L572.8,224.22 L573.8,225.12 L574.8,225.98 L575.8,226.83 L576.8,227.65 L577.8,228.47 L578.8,229.27 L579.8,230.08 L580.8,230.9 L581.8,231.72 L582.8,232.56 L583.8,233.41 L584.8,234.28 L585.8,235.17 L586.8,236.06 L587.8,236.96 L588.8,237.86 L589.8,238.75 L590.8,239.61 L591.8,240.45 L592.8,241.25 L593.8,242 L594.8,242.7 L595.8,243.33 L596.8,243.89 L597.8,244.37 L598.8,244.77 L599.4,245.09 L599.4,245.09" stroke="#000" stroke-width="3.8"/>
</g>
<text x="3.79" y="424.4" font-size="27.54" textLength="20.13" lengthAdjust="spacingAndGlyphs">B</text>
<rect x="108.2" y="439.8" width="491.2" height="284.7" fill="none" stroke="#222" stroke-width="1.1"/>
<path d="M102.4,724.5H114.9 M103.6,717.38H108.2 M103.6,710.26H108.2 M103.6,703.15H108.2 M103.6,696.03H108.2 M103.6,688.91H108.2 M103.6,681.79H108.2 M103.6,674.68H108.2 M102.4,667.56H114.9 M103.6,660.44H108.2 M103.6,653.33H108.2 M103.6,646.21H108.2 M103.6,639.09H108.2 M103.6,631.97H108.2 M103.6,624.86H108.2 M103.6,617.74H108.2 M102.4,610.62H114.9 M103.6,603.5H108.2 M103.6,596.38H108.2 M103.6,589.27H108.2 M103.6,582.15H108.2 M103.6,575.03H108.2 M103.6,567.91H108.2 M103.6,560.8H108.2 M102.4,553.68H114.9 M103.6,546.56H108.2 M103.6,539.44H108.2 M103.6,532.33H108.2 M103.6,525.21H108.2 M103.6,518.09H108.2 M103.6,510.98H108.2 M103.6,503.86H108.2 M102.4,496.74H114.9 M103.6,489.62H108.2 M103.6,482.5H108.2 M103.6,475.39H108.2 M103.6,468.27H108.2 M103.6,461.15H108.2 M103.6,454.03H108.2 M103.6,446.92H108.2 M102.4,439.8H114.9 M108.2,717.8V730.7 M124.57,724.5V730.1 M140.95,724.5V730.1 M157.32,724.5V730.1 M173.69,724.5V730.1 M190.07,717.8V730.7 M206.44,724.5V730.1 M222.81,724.5V730.1 M239.19,724.5V730.1 M255.56,724.5V730.1 M271.93,717.8V730.7 M288.31,724.5V730.1 M304.68,724.5V730.1 M321.05,724.5V730.1 M337.43,724.5V730.1 M353.8,717.8V730.7 M370.17,724.5V730.1 M386.55,724.5V730.1 M402.92,724.5V730.1 M419.29,724.5V730.1 M435.67,717.8V730.7 M452.04,724.5V730.1 M468.41,724.5V730.1 M484.79,724.5V730.1 M501.16,724.5V730.1 M517.53,717.8V730.7 M533.91,724.5V730.1 M550.28,724.5V730.1 M566.65,724.5V730.1 M583.03,724.5V730.1 M599.4,717.8V730.7" stroke="#000" stroke-width="1.3" fill="none"/>
<path d="M108.2,439.8V724.5H599.4" stroke="#000" stroke-width="1.5" fill="none"/>
<text x="58.93" y="731.6" font-size="19.29" textLength="30.24" lengthAdjust="spacingAndGlyphs">0.0</text>
<text x="58.93" y="674.66" font-size="19.29" textLength="30.24" lengthAdjust="spacingAndGlyphs">0.2</text>
<text x="58.95" y="617.72" font-size="19.29" textLength="29.46" lengthAdjust="spacingAndGlyphs">0.4</text>
<text x="58.93" y="560.78" font-size="19.29" textLength="30.13" lengthAdjust="spacingAndGlyphs">0.6</text>
<text x="58.94" y="503.84" font-size="19.29" textLength="30.01" lengthAdjust="spacingAndGlyphs">0.8</text>
<text x="58.36" y="446.9" font-size="19.29" textLength="30.83" lengthAdjust="spacingAndGlyphs">1.0</text>
<text x="102.07" y="761.3" font-size="18.86" textLength="12.29" lengthAdjust="spacingAndGlyphs">0</text>
<text x="178.17" y="761.3" font-size="18.86" textLength="24.07" lengthAdjust="spacingAndGlyphs">50</text>
<text x="254.17" y="761.3" font-size="18.86" textLength="35.08" lengthAdjust="spacingAndGlyphs">100</text>
<text x="336.03" y="761.3" font-size="18.86" textLength="35.08" lengthAdjust="spacingAndGlyphs">150</text>
<text x="418.54" y="761.3" font-size="18.86" textLength="34.42" lengthAdjust="spacingAndGlyphs">200</text>
<text x="500.41" y="761.3" font-size="18.86" textLength="34.42" lengthAdjust="spacingAndGlyphs">250</text>
<text x="582.49" y="761.3" font-size="18.86" textLength="34.2" lengthAdjust="spacingAndGlyphs">300</text>
<text x="213.03" y="794.8" font-size="26.3" textLength="106.57" lengthAdjust="spacingAndGlyphs">[Sulfated</text>
<text x="322.99" y="794.8" font-size="26.3" textLength="65.61" lengthAdjust="spacingAndGlyphs">QAO]</text>
<text x="413.89" y="794.8" font-size="26.3" textLength="7.37" lengthAdjust="spacingAndGlyphs">(</text>
<text x="440.62" y="794.8" font-size="26.3" textLength="24.04" lengthAdjust="spacingAndGlyphs">M</text>
<text x="465.98" y="794.8" font-size="26.3" textLength="8.21" lengthAdjust="spacingAndGlyphs">)</text>
<text x="423.2" y="794.6" font-size="24" style="font-family:'Liberation Serif',serif;font-weight:normal" textLength="16.2" lengthAdjust="spacingAndGlyphs">μ</text>
<path d="M13.4,615.5L33.3,607.5L33.3,624Z M18.23,616.04L31.5,621.71L31.5,610.7Z" fill="#000" fill-rule="evenodd"/>
<text transform="translate(32.9,603.9) rotate(-90)" x="-1.26" y="0" font-size="24.49" textLength="11.86" lengthAdjust="spacingAndGlyphs">F</text>
<path d="M14.2,584.0L36.3,592.3" stroke="#000" stroke-width="2.7"/>
<text transform="translate(32.8,580) rotate(-90)" x="-1.19" y="0" font-size="25.07" textLength="11.14" lengthAdjust="spacingAndGlyphs">F</text>
<text transform="translate(39,568.3) rotate(-90)" x="-0.61" y="0" font-size="14.71" textLength="8.55" lengthAdjust="spacingAndGlyphs">0</text>
<g fill="none" stroke="#000" stroke-width="2.3" stroke-linejoin="round">
<path d="M108.2,724.5 L109.22,724.5 L110.25,724.5 L111.27,724.5 L112.3,724.5 L113.32,724.5 L114.35,724.5 L115.37,724.5 L116.39,724.5 L117.42,724.5 L118.44,724.5 L119.47,724.5 L120.49,724.5 L121.51,724.5 L122.54,724.5 L123.56,724.5 L124.59,724.5 L125.61,724.5 L126.64,724.5 L127.66,724.5 L128.68,724.5 L129.71,724.5 L130.73,724.5 L131.76,724.5 L132.78,724.5 L133.8,724.5 L134.83,724.5 L135.85,724.5 L136.88,724.5 L137.9,724.5 L138.93,724.5 L139.95,724.5 L140.97,724.5 L142,724.5 L143.02,724.5 L144.05,724.5 L145.07,724.5 L146.09,724.5 L147.12,724.5 L148.14,724.5 L149.17,724.5 L150.19,724.5 L151.22,724.5 L152.24,724.5 L153.26,724.5 L154.29,724.5 L155.31,724.5 L156.34,724.49 L157.36,724.49 L158.39,724.49 L159.41,724.49 L160.43,724.49 L161.46,724.49 L162.48,724.49 L163.51,724.48 L164.53,724.48 L165.55,724.48 L166.58,724.47 L167.6,724.47 L168.63,724.46 L169.65,724.45 L170.68,724.45 L171.7,724.44 L172.72,724.43 L173.75,724.42 L174.77,724.41 L175.8,724.39 L176.82,724.38 L177.84,724.36 L178.87,724.34 L179.89,724.32 L180.92,724.29 L181.94,724.26 L182.97,724.23 L183.99,724.2 L185.01,724.16 L186.04,724.11 L187.06,724.07 L188.09,724.01 L189.11,723.95 L190.13,723.89 L191.16,723.82 L192.18,723.74 L193.21,723.65 L194.23,723.55 L195.26,723.45 L196.28,723.33 L197.3,723.2 L198.33,723.06 L199.35,722.91 L200.38,722.74 L201.4,722.56 L202.43,722.36 L203.45,722.14 L204.47,721.9 L205.5,721.65 L206.52,721.37 L207.2,721.17 L207.89,720.96 L208.57,720.74 L209.25,720.51 L209.94,720.26 L210.62,720 L211.3,719.73 L211.98,719.45 L212.67,719.15 L213.35,718.83 L214.03,718.5 L214.72,718.15 L215.4,717.79 L216.08,717.41 L216.76,717.01 L217.45,716.59 L218.13,716.15 L218.81,715.69 L219.49,715.21 L220.18,714.71 L220.86,714.19 L221.54,713.64 L222.23,713.07 L222.91,712.47 L223.59,711.85 L224.27,711.21 L224.96,710.54 L225.64,709.84 L226.32,709.12 L227.01,708.36 L227.69,707.58 L228.37,706.77 L229.05,705.93 L229.74,705.05 L230.42,704.15 L231.1,703.22 L231.79,702.25 L232.47,701.26 L233.15,700.23 L233.83,699.16 L234.52,698.07 L235.2,696.94 L235.88,695.78 L236.56,694.59 L237.25,693.36 L237.59,692.74 L237.93,692.1 L238.27,691.46 L238.61,690.81 L238.95,690.15 L239.3,689.48 L239.64,688.81 L239.98,688.13 L240.32,687.44 L240.66,686.74 L241,686.03 L241.34,685.32 L241.69,684.6 L242.03,683.87 L242.37,683.13 L242.71,682.39 L243.05,681.64 L243.39,680.88 L243.73,680.11 L244.08,679.34 L244.42,678.56 L244.76,677.77 L245.1,676.98 L245.44,676.18 L245.78,675.37 L246.12,674.56 L246.47,673.74 L246.81,672.91 L247.15,672.08 L247.49,671.24 L247.83,670.4 L248.17,669.55 L248.51,668.7 L248.85,667.84 L249.2,666.98 L249.54,666.11 L249.88,665.23 L250.22,664.36 L250.56,663.47 L250.9,662.59 L251.24,661.7 L251.59,660.81 L251.93,659.91 L252.27,659.01 L252.61,658.1 L252.95,657.2 L253.29,656.29 L253.63,655.38 L253.98,654.46 L254.32,653.55 L254.66,652.63 L255,651.71 L255.34,650.79 L255.68,649.86 L256.02,648.94 L256.37,648.01 L256.71,647.09 L257.05,646.16 L257.39,645.24 L257.73,644.31 L258.07,643.39 L258.41,642.46 L258.76,641.54 L259.1,640.61 L259.44,639.69 L259.78,638.77 L260.12,637.84 L260.46,636.93 L260.8,636.01 L261.15,635.09 L261.49,634.18 L261.83,633.27 L262.17,632.36 L262.51,631.45 L262.85,630.55 L263.19,629.65 L263.54,628.75 L263.88,627.86 L264.22,626.97 L264.56,626.08 L264.9,625.2 L265.24,624.32 L265.58,623.45 L265.92,622.58 L266.27,621.72 L266.61,620.85 L266.95,620 L267.29,619.15 L267.63,618.3 L267.97,617.46 L268.31,616.62 L268.66,615.79 L269,614.97 L269.34,614.15 L269.68,613.34 L270.02,612.53 L270.36,611.73 L270.7,610.93 L271.05,610.14 L271.39,609.36 L271.73,608.58 L272.07,607.81 L272.41,607.04 L272.75,606.28 L273.09,605.53 L273.44,604.78 L273.78,604.04 L274.12,603.31 L274.46,602.58 L274.8,601.86 L275.14,601.15 L275.48,600.45 L275.83,599.75 L276.17,599.05 L276.51,598.37 L276.85,597.69 L277.19,597.02 L277.53,596.35 L277.87,595.69 L278.22,595.04 L278.56,594.4 L278.9,593.76 L279.24,593.13 L279.58,592.51 L280.26,591.28 L280.95,590.08 L281.63,588.91 L282.31,587.77 L282.99,586.65 L283.68,585.56 L284.36,584.5 L285.04,583.46 L285.73,582.45 L286.41,581.46 L287.09,580.5 L287.77,579.56 L288.46,578.65 L289.14,577.77 L289.82,576.9 L290.51,576.06 L291.19,575.24 L291.87,574.45 L292.55,573.68 L293.24,572.92 L293.92,572.19 L294.6,571.48 L295.28,570.79 L295.97,570.12 L296.65,569.47 L297.33,568.84 L298.02,568.23 L298.7,567.63 L299.38,567.05 L300.06,566.49 L300.75,565.94 L301.43,565.42 L302.11,564.9 L302.8,564.4 L303.48,563.92 L304.16,563.45 L304.84,563 L305.53,562.56 L306.21,562.13 L306.89,561.71 L307.58,561.31 L308.26,560.92 L308.94,560.54 L309.62,560.17 L310.31,559.82 L310.99,559.47 L311.67,559.14 L312.35,558.81 L313.04,558.5 L313.72,558.19 L314.4,557.9 L315.09,557.61 L315.77,557.33 L316.45,557.06 L317.13,556.8 L317.82,556.55 L318.5,556.3 L319.18,556.06 L319.87,555.83 L320.55,555.61 L321.23,555.39 L321.91,555.18 L322.6,554.98 L323.28,554.78 L323.96,554.59 L324.64,554.4 L325.67,554.13 L326.69,553.87 L327.72,553.63 L328.74,553.39 L329.77,553.17 L330.79,552.95 L331.81,552.75 L332.84,552.55 L333.86,552.37 L334.89,552.19 L335.91,552.02 L336.94,551.85 L337.96,551.7 L338.98,551.55 L340.01,551.4 L341.03,551.27 L342.06,551.14 L343.08,551.01 L344.1,550.89 L345.13,550.78 L346.15,550.67 L347.18,550.56 L348.2,550.46 L349.23,550.36 L350.25,550.27 L351.27,550.18 L352.3,550.1 L353.32,550.02 L354.35,549.94 L355.37,549.87 L356.39,549.79 L357.42,549.72 L358.44,549.66 L359.47,549.6 L360.49,549.54 L361.52,549.48 L362.54,549.42 L363.56,549.37 L364.59,549.32 L365.61,549.27 L366.64,549.22 L367.66,549.18 L368.68,549.13 L369.71,549.09 L370.73,549.05 L371.76,549.01 L372.78,548.97 L373.81,548.94 L374.83,548.9 L375.85,548.87 L376.88,548.84 L377.9,548.81 L378.93,548.78 L379.95,548.75 L380.98,548.72 L382,548.7 L383.02,548.67 L384.05,548.65 L385.07,548.63 L386.1,548.6 L387.12,548.58 L388.14,548.56 L389.17,548.54 L390.19,548.52 L391.22,548.5 L392.24,548.49 L393.27,548.47 L394.29,548.45 L395.31,548.44 L396.34,548.42 L397.36,548.41 L398.39,548.39 L399.41,548.38 L400.43,548.36 L401.46,548.35 L402.48,548.34 L403.51,548.33 L404.53,548.32 L405.56,548.31 L406.58,548.29 L407.6,548.28 L408.63,548.27 L409.65,548.26 L410.68,548.26 L411.7,548.25 L412.72,548.24 L413.75,548.23 L414.77,548.22 L415.8,548.21 L416.82,548.21 L417.85,548.2 L418.87,548.19 L419.89,548.19 L420.92,548.18 L421.94,548.17 L422.97,548.17 L423.99,548.16 L425.02,548.15 L426.04,548.15 L427.06,548.14 L428.09,548.14 L429.11,548.13 L430.14,548.13 L431.16,548.12 L432.18,548.12 L433.21,548.11 L434.23,548.11 L435.26,548.11 L436.28,548.1 L437.31,548.1 L438.33,548.09 L439.35,548.09 L440.38,548.09 L441.4,548.08 L442.43,548.08 L443.45,548.08 L444.47,548.07 L445.5,548.07 L446.52,548.07 L447.55,548.07 L448.57,548.06 L449.6,548.06 L450.62,548.06 L451.64,548.06 L452.67,548.05 L453.69,548.05 L454.72,548.05 L455.74,548.05 L456.76,548.04 L457.79,548.04 L458.81,548.04 L459.84,548.04 L460.86,548.04 L461.89,548.03 L462.91,548.03 L463.93,548.03 L464.96,548.03 L465.98,548.03 L467.01,548.03 L468.03,548.02 L469.06,548.02 L470.08,548.02 L471.1,548.02 L472.13,548.02 L473.15,548.02 L474.18,548.02 L475.2,548.02 L476.22,548.01 L477.25,548.01 L478.27,548.01 L479.3,548.01 L480.32,548.01 L481.35,548.01 L482.37,548.01 L483.39,548.01 L484.42,548.01 L485.44,548 L486.47,548 L487.49,548 L488.51,548 L489.54,548 L490.56,548 L491.59,548 L492.61,548 L493.64,548 L494.66,548 L495.68,548 L496.71,548 L497.73,548 L498.76,547.99 L499.78,547.99 L500.8,547.99 L501.83,547.99 L502.85,547.99 L503.88,547.99 L504.9,547.99 L505.93,547.99 L506.95,547.99 L507.97,547.99 L509,547.99 L510.02,547.99 L511.05,547.99 L512.07,547.99 L513.1,547.99 L514.12,547.99 L515.14,547.99 L516.17,547.99 L517.19,547.99 L517.53,547.99"/>
<path d="M108.2,724.5 L109.02,724.5 L109.84,724.5 L110.66,724.5 L111.48,724.5 L112.3,724.5 L113.12,724.5 L113.94,724.5 L114.75,724.5 L115.57,724.5 L116.39,724.5 L117.21,724.5 L118.03,724.5 L118.85,724.5 L119.67,724.5 L120.49,724.5 L121.31,724.5 L122.13,724.5 L122.95,724.5 L123.77,724.5 L124.59,724.5 L125.41,724.5 L126.23,724.5 L127.05,724.5 L127.86,724.5 L128.68,724.5 L129.5,724.5 L130.32,724.5 L131.14,724.5 L131.96,724.5 L132.78,724.5 L133.6,724.5 L134.42,724.5 L135.24,724.5 L136.06,724.5 L136.88,724.5 L137.7,724.5 L138.52,724.5 L139.34,724.5 L140.15,724.5 L140.97,724.5 L141.79,724.5 L142.61,724.5 L143.43,724.5 L144.25,724.5 L145.07,724.5 L145.89,724.5 L146.71,724.5 L147.53,724.5 L148.35,724.5 L149.17,724.5 L149.99,724.5 L150.81,724.5 L151.63,724.5 L152.44,724.5 L153.26,724.5 L154.08,724.5 L154.9,724.5 L155.72,724.5 L156.54,724.5 L157.36,724.49 L158.18,724.49 L159,724.49 L159.82,724.49 L160.64,724.49 L161.46,724.49 L162.28,724.49 L163.1,724.48 L163.92,724.48 L164.74,724.48 L165.55,724.48 L166.37,724.47 L167.19,724.47 L168.01,724.47 L168.83,724.46 L169.65,724.46 L170.47,724.45 L171.29,724.44 L172.11,724.44 L172.93,724.43 L173.75,724.42 L174.57,724.41 L175.39,724.4 L176.21,724.39 L177.03,724.38 L177.84,724.36 L178.66,724.35 L179.48,724.33 L180.3,724.31 L181.12,724.29 L181.94,724.27 L182.76,724.24 L183.58,724.21 L184.4,724.18 L185.22,724.15 L186.04,724.12 L186.86,724.08 L187.68,724.04 L188.5,723.99 L189.32,723.94 L190.13,723.89 L190.95,723.83 L191.77,723.77 L192.59,723.7 L193.41,723.62 L194.23,723.54 L195.05,723.46 L195.87,723.36 L196.69,723.26 L197.51,723.15 L198.33,723.04 L199.15,722.91 L199.97,722.78 L200.79,722.63 L201.61,722.47 L202.43,722.31 L203.24,722.13 L204.06,721.94 L204.88,721.73 L205.7,721.51 L206.52,721.27 L207.34,721.02 L208.16,720.75 L208.98,720.47 L209.8,720.16 L210.62,719.84 L211.44,719.49 L212.26,719.12 L213.08,718.73 L213.9,718.32 L214.72,717.88 L215.53,717.41 L216.35,716.92 L217.17,716.39 L217.99,715.84 L218.81,715.25 L219.63,714.63 L220.45,713.98 L221.27,713.29 L222.09,712.56 L222.91,711.8 L223.73,710.99 L224.55,710.15 L225.37,709.26 L226.19,708.33 L227.01,707.36 L227.83,706.34 L228.64,705.27 L229.46,704.16 L230.28,703 L230.69,702.4 L231.1,701.79 L231.51,701.16 L231.92,700.53 L232.33,699.88 L232.74,699.22 L233.15,698.54 L233.56,697.86 L233.97,697.16 L234.38,696.44 L234.79,695.72 L235.2,694.98 L235.61,694.23 L236.02,693.47 L236.43,692.69 L236.84,691.9 L237.25,691.1 L237.66,690.29 L238.07,689.46 L238.48,688.62 L238.89,687.77 L239.3,686.91 L239.71,686.03 L240.12,685.15 L240.52,684.25 L240.93,683.34 L241.34,682.42 L241.75,681.49 L242.16,680.54 L242.57,679.59 L242.98,678.63 L243.39,677.65 L243.8,676.67 L244.21,675.67 L244.62,674.67 L245.03,673.66 L245.44,672.64 L245.85,671.61 L246.26,670.57 L246.67,669.52 L247.08,668.47 L247.49,667.41 L247.9,666.35 L248.31,665.27 L248.72,664.19 L249.13,663.11 L249.54,662.02 L249.95,660.93 L250.36,659.83 L250.77,658.72 L251.18,657.62 L251.59,656.51 L252,655.4 L252.41,654.28 L252.82,653.17 L253.22,652.05 L253.63,650.93 L254.04,649.82 L254.45,648.7 L254.86,647.58 L255.27,646.46 L255.68,645.35 L256.09,644.23 L256.5,643.12 L256.91,642.01 L257.32,640.91 L257.73,639.8 L258.14,638.7 L258.55,637.61 L258.96,636.52 L259.37,635.43 L259.78,634.35 L260.19,633.28 L260.6,632.21 L261.01,631.15 L261.42,630.09 L261.83,629.04 L262.24,628 L262.65,626.97 L263.06,625.94 L263.47,624.92 L263.88,623.91 L264.29,622.91 L264.7,621.92 L265.11,620.93 L265.52,619.96 L265.92,618.99 L266.33,618.04 L266.74,617.1 L267.15,616.16 L267.56,615.24 L267.97,614.32 L268.38,613.42 L268.79,612.52 L269.2,611.64 L269.61,610.77 L270.02,609.91 L270.43,609.06 L270.84,608.22 L271.25,607.39 L271.66,606.58 L272.07,605.77 L272.48,604.98 L272.89,604.19 L273.3,603.42 L273.71,602.66 L274.12,601.91 L274.53,601.17 L274.94,600.45 L275.35,599.73 L275.76,599.03 L276.17,598.33 L276.58,597.65 L276.99,596.98 L277.4,596.32 L277.81,595.67 L278.22,595.03 L278.62,594.4 L279.03,593.79 L279.44,593.18 L279.85,592.58 L280.26,592 L281.08,590.86 L281.9,589.76 L282.72,588.69 L283.54,587.67 L284.36,586.69 L285.18,585.74 L286,584.82 L286.82,583.95 L287.64,583.1 L288.46,582.29 L289.28,581.51 L290.1,580.76 L290.91,580.04 L291.73,579.34 L292.55,578.68 L293.37,578.04 L294.19,577.43 L295.01,576.84 L295.83,576.28 L296.65,575.74 L297.47,575.22 L298.29,574.72 L299.11,574.25 L299.93,573.79 L300.75,573.35 L301.57,572.93 L302.39,572.53 L303.21,572.15 L304.02,571.78 L304.84,571.42 L305.66,571.08 L306.48,570.76 L307.3,570.44 L308.12,570.14 L308.94,569.86 L309.76,569.58 L310.58,569.32 L311.4,569.07 L312.22,568.83 L313.04,568.59 L313.86,568.37 L314.68,568.16 L315.5,567.95 L316.31,567.76 L317.13,567.57 L317.95,567.39 L318.77,567.22 L319.59,567.05 L320.41,566.89 L321.23,566.74 L322.05,566.6 L322.87,566.46 L323.69,566.32 L324.51,566.19 L325.33,566.07 L326.15,565.95 L326.97,565.84 L327.79,565.73 L328.61,565.62 L329.42,565.52 L330.24,565.42 L331.06,565.33 L331.88,565.24 L332.7,565.16 L333.52,565.07 L334.34,565 L335.16,564.92 L335.98,564.85 L336.8,564.78 L337.62,564.71 L338.44,564.64 L339.26,564.58 L340.08,564.52 L340.9,564.46 L341.71,564.41 L342.53,564.36 L343.35,564.3 L344.17,564.26 L344.99,564.21 L345.81,564.16 L346.63,564.12 L347.45,564.08 L348.27,564.04 L349.09,564 L349.91,563.96 L350.73,563.92 L351.55,563.89 L352.37,563.85 L353.19,563.82 L354,563.79 L354.82,563.76 L355.64,563.73 L356.46,563.7 L357.28,563.68 L358.1,563.65 L358.92,563.63 L359.74,563.6 L360.56,563.58 L361.38,563.56 L362.2,563.54 L363.02,563.52 L363.84,563.5 L364.66,563.48 L365.48,563.46 L366.3,563.44 L367.11,563.42 L367.93,563.41 L368.75,563.39 L369.57,563.37 L370.39,563.36 L371.21,563.34 L372.03,563.33 L372.85,563.32 L373.67,563.3 L374.49,563.29 L375.31,563.28 L376.13,563.27 L376.95,563.26 L377.77,563.24 L378.59,563.23 L379.4,563.22 L380.22,563.21 L381.04,563.2 L381.86,563.2 L382.68,563.19 L383.5,563.18 L384.32,563.17 L385.14,563.16 L385.96,563.15 L386.78,563.15 L387.6,563.14 L388.42,563.13 L389.24,563.12 L390.06,563.12 L390.88,563.11 L391.69,563.11 L392.51,563.1 L393.33,563.09 L394.15,563.09 L394.97,563.08 L395.79,563.08 L396.61,563.07 L397.43,563.07 L398.25,563.06 L399.07,563.06 L399.89,563.05 L400.71,563.05 L401.53,563.04 L402.35,563.04 L403.17,563.04 L403.99,563.03 L404.8,563.03 L405.62,563.03 L406.44,563.02 L407.26,563.02 L408.08,563.02 L408.9,563.01 L409.72,563.01 L410.54,563.01 L411.36,563 L412.18,563 L413,563 L413.82,562.99 L414.64,562.99 L415.46,562.99 L416.28,562.99 L417.09,562.99 L417.91,562.98 L418.73,562.98 L419.55,562.98 L420.37,562.98 L421.19,562.97 L422.01,562.97 L422.83,562.97 L423.65,562.97 L424.47,562.97 L425.29,562.97 L426.11,562.96 L426.93,562.96 L427.75,562.96 L428.57,562.96 L429.38,562.96 L430.2,562.96 L431.02,562.95 L431.84,562.95 L432.66,562.95 L433.48,562.95 L434.3,562.95 L435.12,562.95 L435.94,562.95 L436.76,562.95 L437.58,562.94 L438.4,562.94 L439.22,562.94 L440.04,562.94 L440.86,562.94 L441.68,562.94 L442.49,562.94 L443.31,562.94 L444.13,562.94 L444.95,562.94 L445.77,562.93 L446.59,562.93 L447.41,562.93 L448.23,562.93 L449.05,562.93 L449.87,562.93 L450.69,562.93 L451.51,562.93 L452.33,562.93 L453.15,562.93 L453.97,562.93 L454.78,562.93 L455.6,562.93 L456.42,562.93 L457.24,562.92 L458.06,562.92 L458.88,562.92 L459.7,562.92 L460.52,562.92 L461.34,562.92 L462.16,562.92 L462.98,562.92 L463.8,562.92 L464.62,562.92 L465.44,562.92 L466.26,562.92 L467.08,562.92 L467.89,562.92 L468.71,562.92 L469.53,562.92 L470.35,562.92 L471.17,562.92 L471.99,562.92 L472.81,562.92 L473.63,562.92 L474.45,562.92 L475.27,562.92 L476.09,562.91 L476.91,562.91 L477.73,562.91 L478.55,562.91 L479.37,562.91 L480.18,562.91 L481,562.91 L481.82,562.91 L482.64,562.91 L483.46,562.91 L484.28,562.91 L485.1,562.91 L485.92,562.91 L486.74,562.91 L487.56,562.91 L488.38,562.91 L489.2,562.91 L490.02,562.91 L490.84,562.91 L491.66,562.91 L492.47,562.91 L493.29,562.91 L494.11,562.91 L494.93,562.91 L495.75,562.91 L496.57,562.91 L497.39,562.91 L498.21,562.91 L499.03,562.91 L499.85,562.91 L500.67,562.91 L501.49,562.91 L502.31,562.91 L503.13,562.91 L503.95,562.91 L504.77,562.91 L505.58,562.91 L506.4,562.91 L507.22,562.91 L508.04,562.91 L508.86,562.91 L509.68,562.91 L510.5,562.91 L511.32,562.91 L512.14,562.91 L512.96,562.91 L513.78,562.91 L514.6,562.91 L515.42,562.91 L516.24,562.91 L517.06,562.91 L517.87,562.91 L518.69,562.91 L519.51,562.91 L520.33,562.91 L521.15,562.91 L521.97,562.91 L522.79,562.9 L523.61,562.9 L524.43,562.9 L525.25,562.9 L526.07,562.9 L526.89,562.9 L527.71,562.9 L528.53,562.9 L529.35,562.9 L530.16,562.9 L530.98,562.9 L531.8,562.9 L532.62,562.9 L533.44,562.9 L534.26,562.9 L535.08,562.9 L535.9,562.9 L536.72,562.9 L537.54,562.9 L538.36,562.9 L539.18,562.9 L540,562.9 L540.82,562.9 L541.64,562.9 L542.46,562.9 L543.27,562.9 L544.09,562.9 L544.91,562.9 L545.73,562.9 L546.55,562.9 L547.37,562.9 L548.19,562.9 L549.01,562.9 L549.83,562.9 L550.65,562.9 L551.47,562.9 L552.29,562.9 L553.11,562.9 L553.93,562.9 L554.75,562.9 L555.56,562.9 L556.38,562.9 L557.2,562.9 L558.02,562.9 L558.84,562.9 L559.66,562.9 L560.48,562.9 L561.3,562.9 L562.12,562.9 L562.94,562.9 L563.76,562.9 L564.58,562.9 L565.4,562.9 L566.22,562.9 L567.04,562.9 L567.86,562.9 L568.67,562.9 L569.49,562.9 L570.31,562.9 L571.13,562.9 L571.95,562.9 L572.77,562.9 L573.59,562.9 L574.41,562.9 L575.23,562.9 L576.05,562.9 L576.87,562.9 L577.69,562.9 L578.51,562.9 L579.33,562.9 L580.15,562.9 L580.96,562.9 L581.78,562.9 L582.6,562.9 L583.42,562.9 L584.24,562.9 L585.06,562.9 L585.88,562.9 L586.7,562.9 L587.52,562.9 L588.34,562.9 L589.16,562.9 L589.98,562.9 L590.8,562.9 L591.62,562.9 L592.44,562.9 L593.25,562.9 L594.07,562.9 L594.89,562.9 L595.71,562.9 L596.53,562.9 L597.35,562.9 L598.17,562.9 L598.99,562.9 L599.4,562.9"/>
<path d="M108.2,724.5 L109.02,724.5 L109.84,724.5 L110.66,724.5 L111.48,724.5 L112.3,724.5 L113.12,724.5 L113.94,724.5 L114.75,724.49 L115.57,724.49 L116.39,724.48 L117.21,724.47 L118.03,724.45 L118.85,724.42 L119.67,724.39 L120.49,724.34 L121.31,724.28 L122.13,724.2 L122.95,724.1 L123.77,723.98 L124.59,723.83 L125.41,723.65 L126.23,723.43 L126.91,723.22 L127.59,722.97 L128.27,722.68 L128.96,722.36 L129.64,721.99 L130.32,721.57 L131.01,721.1 L131.69,720.58 L132.23,720.11 L132.78,719.6 L133.33,719.05 L133.87,718.46 L134.42,717.81 L134.97,717.11 L135.51,716.36 L135.92,715.76 L136.33,715.12 L136.74,714.46 L137.15,713.75 L137.56,713.02 L137.97,712.24 L138.38,711.43 L138.79,710.58 L139.2,709.69 L139.61,708.76 L140.02,707.79 L140.29,707.12 L140.56,706.43 L140.84,705.72 L141.11,705 L141.38,704.25 L141.66,703.49 L141.93,702.7 L142.2,701.9 L142.48,701.08 L142.75,700.24 L143.02,699.37 L143.3,698.49 L143.57,697.59 L143.84,696.67 L144.11,695.73 L144.39,694.77 L144.66,693.79 L144.93,692.79 L145.21,691.77 L145.48,690.73 L145.75,689.67 L146.03,688.59 L146.3,687.5 L146.57,686.38 L146.85,685.25 L147.12,684.09 L147.39,682.92 L147.67,681.74 L147.94,680.53 L148.21,679.31 L148.48,678.07 L148.76,676.81 L149.03,675.54 L149.3,674.25 L149.58,672.95 L149.85,671.63 L150.12,670.3 L150.4,668.95 L150.67,667.59 L150.94,666.21 L151.22,664.83 L151.35,664.13 L151.49,663.43 L151.63,662.72 L151.76,662.02 L151.9,661.31 L152.04,660.59 L152.17,659.88 L152.31,659.16 L152.44,658.44 L152.58,657.72 L152.72,656.99 L152.85,656.26 L152.99,655.53 L153.13,654.8 L153.26,654.07 L153.4,653.33 L153.54,652.59 L153.67,651.85 L153.81,651.11 L153.95,650.37 L154.08,649.62 L154.22,648.88 L154.36,648.13 L154.49,647.38 L154.63,646.63 L154.77,645.87 L154.9,645.12 L155.04,644.37 L155.18,643.61 L155.31,642.85 L155.45,642.09 L155.59,641.34 L155.72,640.58 L155.86,639.82 L156,639.05 L156.13,638.29 L156.27,637.53 L156.41,636.77 L156.54,636.01 L156.68,635.24 L156.81,634.48 L156.95,633.72 L157.09,632.95 L157.22,632.19 L157.36,631.42 L157.5,630.66 L157.63,629.9 L157.77,629.14 L157.91,628.37 L158.04,627.61 L158.18,626.85 L158.32,626.09 L158.45,625.33 L158.59,624.57 L158.73,623.81 L158.86,623.05 L159,622.29 L159.14,621.54 L159.27,620.78 L159.41,620.03 L159.55,619.28 L159.68,618.52 L159.82,617.77 L159.96,617.02 L160.09,616.28 L160.23,615.53 L160.37,614.79 L160.5,614.04 L160.64,613.3 L160.77,612.56 L160.91,611.82 L161.05,611.08 L161.18,610.35 L161.32,609.62 L161.46,608.89 L161.59,608.16 L161.73,607.43 L161.87,606.71 L162,605.98 L162.14,605.26 L162.28,604.54 L162.41,603.83 L162.55,603.11 L162.69,602.4 L162.82,601.69 L162.96,600.99 L163.1,600.28 L163.23,599.58 L163.37,598.88 L163.51,598.18 L163.64,597.49 L163.92,596.11 L164.19,594.74 L164.46,593.38 L164.74,592.03 L165.01,590.7 L165.28,589.38 L165.55,588.06 L165.83,586.76 L166.1,585.48 L166.37,584.2 L166.65,582.94 L166.92,581.69 L167.19,580.46 L167.47,579.23 L167.74,578.02 L168.01,576.83 L168.29,575.64 L168.56,574.47 L168.83,573.32 L169.1,572.18 L169.38,571.05 L169.65,569.93 L169.92,568.83 L170.2,567.74 L170.47,566.66 L170.74,565.6 L171.02,564.56 L171.29,563.52 L171.56,562.5 L171.84,561.49 L172.11,560.5 L172.38,559.52 L172.66,558.55 L172.93,557.6 L173.2,556.66 L173.47,555.73 L173.75,554.81 L174.02,553.91 L174.29,553.02 L174.57,552.15 L174.84,551.28 L175.11,550.43 L175.39,549.59 L175.66,548.77 L175.93,547.95 L176.21,547.15 L176.48,546.36 L176.75,545.58 L177.03,544.82 L177.3,544.06 L177.57,543.32 L177.84,542.59 L178.12,541.87 L178.39,541.16 L178.66,540.46 L178.94,539.77 L179.21,539.09 L179.48,538.43 L179.76,537.77 L180.17,536.81 L180.58,535.87 L180.99,534.95 L181.4,534.05 L181.8,533.17 L182.21,532.32 L182.62,531.48 L183.03,530.67 L183.44,529.88 L183.85,529.1 L184.26,528.34 L184.67,527.61 L185.08,526.89 L185.49,526.18 L185.9,525.5 L186.31,524.83 L186.72,524.18 L187.13,523.54 L187.54,522.92 L187.95,522.32 L188.36,521.73 L188.91,520.96 L189.45,520.22 L190,519.51 L190.54,518.81 L191.09,518.14 L191.64,517.5 L192.18,516.87 L192.73,516.26 L193.28,515.68 L193.82,515.11 L194.37,514.56 L194.91,514.03 L195.46,513.51 L196.01,513.01 L196.55,512.53 L197.1,512.07 L197.65,511.61 L198.33,511.07 L199.01,510.55 L199.69,510.04 L200.38,509.56 L201.06,509.1 L201.74,508.65 L202.43,508.22 L203.11,507.81 L203.79,507.42 L204.47,507.04 L205.16,506.67 L205.84,506.32 L206.52,505.98 L207.2,505.65 L207.89,505.34 L208.57,505.04 L209.25,504.75 L209.94,504.47 L210.62,504.2 L211.3,503.94 L211.98,503.69 L212.67,503.45 L213.35,503.22 L214.03,502.99 L214.72,502.78 L215.4,502.57 L216.08,502.37 L216.76,502.18 L217.45,501.99 L218.27,501.78 L219.09,501.57 L219.9,501.37 L220.72,501.18 L221.54,501 L222.36,500.83 L223.18,500.66 L224,500.5 L224.82,500.35 L225.64,500.2 L226.46,500.06 L227.28,499.92 L228.1,499.79 L228.92,499.66 L229.74,499.54 L230.56,499.43 L231.38,499.31 L232.19,499.21 L233.01,499.1 L233.83,499 L234.65,498.91 L235.47,498.82 L236.29,498.73 L237.11,498.64 L237.93,498.56 L238.75,498.48 L239.57,498.4 L240.39,498.33 L241.21,498.26 L242.03,498.19 L242.85,498.12 L243.67,498.06 L244.49,498 L245.3,497.94 L246.12,497.88 L246.94,497.83 L247.76,497.77 L248.58,497.72 L249.4,497.67 L250.22,497.62 L251.04,497.58 L251.86,497.53 L252.68,497.49 L253.5,497.44 L254.32,497.4 L255.14,497.36 L255.96,497.33 L256.78,497.29 L257.59,497.25 L258.41,497.22 L259.23,497.19 L260.05,497.15 L260.87,497.12 L261.69,497.09 L262.51,497.06 L263.33,497.03 L264.15,497.01 L264.97,496.98 L265.79,496.95 L266.61,496.93 L267.43,496.9 L268.25,496.88 L269.07,496.86 L269.88,496.83 L270.7,496.81 L271.52,496.79 L271.93,496.78"/>
<path d="M108.2,724.5 L108.97,724.5 L109.74,724.5 L110.51,724.5 L111.28,724.5 L112.05,724.5 L112.82,724.5 L113.59,724.5 L114.36,724.5 L115.13,724.5 L115.9,724.5 L116.66,724.5 L117.43,724.5 L118.2,724.5 L118.97,724.5 L119.74,724.5 L120.51,724.49 L121.28,724.49 L122.05,724.49 L122.82,724.48 L123.59,724.47 L124.36,724.47 L125.13,724.45 L125.9,724.44 L126.67,724.43 L127.44,724.41 L128.21,724.38 L128.98,724.35 L129.75,724.32 L130.52,724.28 L131.29,724.23 L132.05,724.17 L132.82,724.1 L133.59,724.03 L134.36,723.94 L135.13,723.84 L135.9,723.72 L136.67,723.58 L137.44,723.43 L138.21,723.26 L138.98,723.06 L139.75,722.84 L140.52,722.59 L141.29,722.31 L141.95,722.05 L142.61,721.76 L143.27,721.44 L143.93,721.1 L144.59,720.72 L145.25,720.3 L145.91,719.85 L146.57,719.36 L147.22,718.84 L147.77,718.36 L148.32,717.85 L148.87,717.31 L149.42,716.74 L149.97,716.13 L150.52,715.48 L151.07,714.79 L151.51,714.2 L151.95,713.59 L152.39,712.95 L152.83,712.29 L153.27,711.59 L153.71,710.86 L154.15,710.09 L154.59,709.3 L155.03,708.47 L155.36,707.82 L155.69,707.15 L156.02,706.47 L156.35,705.76 L156.68,705.03 L157.01,704.28 L157.34,703.51 L157.67,702.71 L158,701.9 L158.33,701.06 L158.66,700.19 L158.99,699.31 L159.32,698.4 L159.65,697.46 L159.98,696.5 L160.31,695.52 L160.64,694.51 L160.86,693.82 L161.08,693.13 L161.3,692.42 L161.52,691.7 L161.74,690.97 L161.96,690.22 L162.18,689.47 L162.4,688.7 L162.62,687.93 L162.83,687.14 L163.05,686.34 L163.27,685.53 L163.49,684.7 L163.71,683.87 L163.93,683.03 L164.15,682.17 L164.37,681.3 L164.59,680.42 L164.81,679.53 L165.03,678.63 L165.25,677.71 L165.47,676.79 L165.69,675.85 L165.91,674.91 L166.13,673.95 L166.35,672.98 L166.57,672 L166.79,671.01 L167.01,670.01 L167.23,669 L167.45,667.98 L167.67,666.95 L167.89,665.91 L168.11,664.86 L168.33,663.8 L168.55,662.73 L168.77,661.65 L168.99,660.56 L169.21,659.46 L169.43,658.36 L169.65,657.24 L169.87,656.12 L170.09,654.99 L170.31,653.85 L170.53,652.7 L170.75,651.55 L170.97,650.39 L171.19,649.22 L171.41,648.04 L171.63,646.86 L171.85,645.67 L172.07,644.48 L172.29,643.28 L172.51,642.07 L172.73,640.86 L172.95,639.65 L173.17,638.43 L173.39,637.21 L173.61,635.98 L173.83,634.75 L174.05,633.52 L174.27,632.28 L174.49,631.04 L174.71,629.8 L174.93,628.55 L175.15,627.31 L175.37,626.06 L175.59,624.82 L175.81,623.57 L176.03,622.32 L176.25,621.07 L176.47,619.82 L176.69,618.57 L176.91,617.33 L177.13,616.08 L177.35,614.84 L177.57,613.59 L177.79,612.35 L178.01,611.12 L178.23,609.88 L178.44,608.65 L178.66,607.42 L178.88,606.2 L179.1,604.98 L179.32,603.76 L179.54,602.55 L179.76,601.34 L179.98,600.14 L180.2,598.95 L180.42,597.76 L180.64,596.57 L180.86,595.39 L181.08,594.22 L181.3,593.06 L181.52,591.9 L181.74,590.74 L181.96,589.6 L182.18,588.46 L182.4,587.33 L182.62,586.21 L182.84,585.1 L183.06,583.99 L183.28,582.9 L183.5,581.81 L183.72,580.73 L183.94,579.66 L184.16,578.6 L184.38,577.55 L184.6,576.5 L184.82,575.47 L185.04,574.45 L185.26,573.43 L185.48,572.43 L185.7,571.43 L185.92,570.45 L186.14,569.47 L186.36,568.51 L186.58,567.55 L186.8,566.6 L187.02,565.67 L187.24,564.75 L187.46,563.83 L187.68,562.93 L187.9,562.03 L188.12,561.15 L188.34,560.28 L188.56,559.41 L188.78,558.56 L189,557.72 L189.22,556.89 L189.44,556.07 L189.66,555.26 L189.88,554.46 L190.1,553.67 L190.32,552.89 L190.54,552.12 L190.76,551.36 L190.98,550.61 L191.2,549.87 L191.42,549.14 L191.64,548.42 L191.86,547.71 L192.08,547.01 L192.3,546.32 L192.52,545.64 L192.85,544.64 L193.18,543.66 L193.51,542.7 L193.83,541.76 L194.16,540.84 L194.49,539.94 L194.82,539.07 L195.15,538.21 L195.48,537.37 L195.81,536.55 L196.14,535.75 L196.47,534.97 L196.8,534.21 L197.13,533.46 L197.46,532.74 L197.79,532.03 L198.12,531.33 L198.45,530.66 L198.78,530 L199.11,529.35 L199.44,528.72 L199.88,527.91 L200.32,527.12 L200.76,526.36 L201.2,525.62 L201.64,524.91 L202.08,524.22 L202.52,523.56 L202.96,522.91 L203.4,522.29 L203.84,521.69 L204.28,521.1 L204.72,520.54 L205.27,519.87 L205.82,519.22 L206.37,518.6 L206.92,518 L207.47,517.43 L208.02,516.89 L208.57,516.37 L209.12,515.86 L209.66,515.39 L210.21,514.93 L210.87,514.4 L211.53,513.9 L212.19,513.43 L212.85,512.97 L213.51,512.55 L214.17,512.14 L214.83,511.75 L215.49,511.39 L216.15,511.04 L216.81,510.7 L217.47,510.39 L218.13,510.09 L218.79,509.8 L219.45,509.53 L220.11,509.27 L220.88,508.99 L221.65,508.72 L222.42,508.46 L223.19,508.22 L223.96,508 L224.73,507.78 L225.49,507.58 L226.26,507.39 L227.03,507.21 L227.8,507.04 L228.57,506.87 L229.34,506.72 L230.11,506.58 L230.88,506.44 L231.65,506.31 L232.42,506.18 L233.19,506.07 L233.96,505.96 L234.73,505.85 L235.5,505.75 L236.27,505.66 L237.04,505.57 L237.81,505.48 L238.58,505.4 L239.35,505.33 L240.01,505.26"/>
</g>
<rect x="105.6" y="722.5" width="10.8" height="10.8" fill="#000" stroke="#000" stroke-width="1.1"/>
<rect x="103.3" y="720.2" width="10.8" height="10.8" fill="#fff" stroke="#222" stroke-width="1.15"/>
<rect x="133.1" y="722.2" width="10.8" height="10.8" fill="#000" stroke="#000" stroke-width="1.1"/>
<rect x="130.8" y="719.9" width="10.8" height="10.8" fill="#fff" stroke="#222" stroke-width="1.15"/>
<rect x="203.3" y="720.7" width="10.8" height="10.8" fill="#000" stroke="#000" stroke-width="1.1"/>
<rect x="201" y="718.4" width="10.8" height="10.8" fill="#fff" stroke="#222" stroke-width="1.15"/>
<rect x="226.7" y="707.4" width="10.8" height="10.8" fill="#000" stroke="#000" stroke-width="1.1"/>
<rect x="224.4" y="705.1" width="10.8" height="10.8" fill="#fff" stroke="#222" stroke-width="1.15"/>
<rect x="250.9" y="650.1" width="10.8" height="10.8" fill="#000" stroke="#000" stroke-width="1.1"/>
<rect x="248.6" y="647.8" width="10.8" height="10.8" fill="#fff" stroke="#222" stroke-width="1.15"/>
<rect x="273.5" y="598.9" width="10.8" height="10.8" fill="#000" stroke="#000" stroke-width="1.1"/>
<rect x="271.2" y="596.6" width="10.8" height="10.8" fill="#fff" stroke="#222" stroke-width="1.15"/>
<rect x="296.4" y="561" width="10.8" height="10.8" fill="#000" stroke="#000" stroke-width="1.1"/>
<rect x="294.1" y="558.7" width="10.8" height="10.8" fill="#fff" stroke="#222" stroke-width="1.15"/>
<rect x="319" y="542.5" width="10.8" height="10.8" fill="#000" stroke="#000" stroke-width="1.1"/>
<rect x="316.7" y="540.2" width="10.8" height="10.8" fill="#fff" stroke="#222" stroke-width="1.15"/>
<rect x="341" y="527.3" width="10.8" height="10.8" fill="#000" stroke="#000" stroke-width="1.1"/>
<rect x="338.7" y="525" width="10.8" height="10.8" fill="#fff" stroke="#222" stroke-width="1.15"/>
<rect x="385.2" y="530.7" width="10.8" height="10.8" fill="#000" stroke="#000" stroke-width="1.1"/>
<rect x="382.9" y="528.4" width="10.8" height="10.8" fill="#fff" stroke="#222" stroke-width="1.15"/>
<rect x="428.4" y="541.3" width="10.8" height="10.8" fill="#000" stroke="#000" stroke-width="1.1"/>
<rect x="426.1" y="539" width="10.8" height="10.8" fill="#fff" stroke="#222" stroke-width="1.15"/>
<rect x="492.2" y="540.7" width="10.8" height="10.8" fill="#000" stroke="#000" stroke-width="1.1"/>
<rect x="489.9" y="538.4" width="10.8" height="10.8" fill="#fff" stroke="#222" stroke-width="1.15"/>
<path d="M111,721.7L117.2,727.9L111,734.1L104.8,727.9Z" fill="#000" stroke="#000" stroke-width="1.1"/>
<path d="M108.7,719.4L114.9,725.6L108.7,731.8L102.5,725.6Z" fill="#fff" stroke="#222" stroke-width="1.15"/>
<path d="M177.9,722.6L184.1,728.8L177.9,735L171.7,728.8Z" fill="#000" stroke="#000" stroke-width="1.1"/>
<path d="M175.6,720.3L181.8,726.5L175.6,732.7L169.4,726.5Z" fill="#fff" stroke="#222" stroke-width="1.15"/>
<path d="M208.8,719.5L215,725.7L208.8,731.9L202.6,725.7Z" fill="#000" stroke="#000" stroke-width="1.1"/>
<path d="M206.5,717.2L212.7,723.4L206.5,729.6L200.3,723.4Z" fill="#fff" stroke="#222" stroke-width="1.15"/>
<path d="M241,705.5L247.2,711.7L241,717.9L234.8,711.7Z" fill="#000" stroke="#000" stroke-width="1.1"/>
<path d="M238.7,703.2L244.9,709.4L238.7,715.6L232.5,709.4Z" fill="#fff" stroke="#222" stroke-width="1.15"/>
<path d="M240.7,667.1L246.9,673.3L240.7,679.5L234.5,673.3Z" fill="#000" stroke="#000" stroke-width="1.1"/>
<path d="M238.4,664.8L244.6,671L238.4,677.2L232.2,671Z" fill="#fff" stroke="#222" stroke-width="1.15"/>
<path d="M272.5,632.9L278.7,639.1L272.5,645.3L266.3,639.1Z" fill="#000" stroke="#000" stroke-width="1.1"/>
<path d="M270.2,630.6L276.4,636.8L270.2,643L264,636.8Z" fill="#fff" stroke="#222" stroke-width="1.15"/>
<path d="M272,603.4L278.2,609.6L272,615.8L265.8,609.6Z" fill="#000" stroke="#000" stroke-width="1.1"/>
<path d="M269.7,601.1L275.9,607.3L269.7,613.5L263.5,607.3Z" fill="#fff" stroke="#222" stroke-width="1.15"/>
<path d="M302.6,568.2L308.8,574.4L302.6,580.6L296.4,574.4Z" fill="#000" stroke="#000" stroke-width="1.1"/>
<path d="M300.3,565.9L306.5,572.1L300.3,578.3L294.1,572.1Z" fill="#fff" stroke="#222" stroke-width="1.15"/>
<path d="M303.1,584.1L309.3,590.3L303.1,596.5L296.9,590.3Z" fill="#000" stroke="#000" stroke-width="1.1"/>
<path d="M300.8,581.8L307,588L300.8,594.2L294.6,588Z" fill="#fff" stroke="#222" stroke-width="1.15"/>
<path d="M334.7,560.4L340.9,566.6L334.7,572.8L328.5,566.6Z" fill="#000" stroke="#000" stroke-width="1.1"/>
<path d="M332.4,558.1L338.6,564.3L332.4,570.5L326.2,564.3Z" fill="#fff" stroke="#222" stroke-width="1.15"/>
<path d="M333.8,557.4L340,563.6L333.8,569.8L327.6,563.6Z" fill="#000" stroke="#000" stroke-width="1.1"/>
<path d="M331.5,555.1L337.7,561.3L331.5,567.5L325.3,561.3Z" fill="#fff" stroke="#222" stroke-width="1.15"/>
<path d="M363.8,556.6L370,562.8L363.8,569L357.6,562.8Z" fill="#000" stroke="#000" stroke-width="1.1"/>
<path d="M361.5,554.3L367.7,560.5L361.5,566.7L355.3,560.5Z" fill="#fff" stroke="#222" stroke-width="1.15"/>
<path d="M395.1,560.9L401.3,567.1L395.1,573.3L388.9,567.1Z" fill="#000" stroke="#000" stroke-width="1.1"/>
<path d="M392.8,558.6L399,564.8L392.8,571L386.6,564.8Z" fill="#fff" stroke="#222" stroke-width="1.15"/>
<path d="M453.9,561.8L460.1,568L453.9,574.2L447.7,568Z" fill="#000" stroke="#000" stroke-width="1.1"/>
<path d="M451.6,559.5L457.8,565.7L451.6,571.9L445.4,565.7Z" fill="#fff" stroke="#222" stroke-width="1.15"/>
<path d="M453.9,568.5L460.1,574.7L453.9,580.9L447.7,574.7Z" fill="#000" stroke="#000" stroke-width="1.1"/>
<path d="M451.6,566.2L457.8,572.4L451.6,578.6L445.4,572.4Z" fill="#fff" stroke="#222" stroke-width="1.15"/>
<path d="M511.8,562.4L518,568.6L511.8,574.8L505.6,568.6Z" fill="#000" stroke="#000" stroke-width="1.1"/>
<path d="M509.5,560.1L515.7,566.3L509.5,572.5L503.3,566.3Z" fill="#fff" stroke="#222" stroke-width="1.15"/>
<path d="M541.8,561.8L548,568L541.8,574.2L535.6,568Z" fill="#000" stroke="#000" stroke-width="1.1"/>
<path d="M539.5,559.5L545.7,565.7L539.5,571.9L533.3,565.7Z" fill="#fff" stroke="#222" stroke-width="1.15"/>
<circle cx="111.3" cy="727.3" r="5.0" fill="#000" stroke="#000" stroke-width="1.1"/>
<circle cx="109" cy="725" r="5.0" fill="#fff" stroke="#222" stroke-width="1.15"/>
<circle cx="123.1" cy="726" r="5.0" fill="#000" stroke="#000" stroke-width="1.1"/>
<circle cx="120.8" cy="723.7" r="5.0" fill="#fff" stroke="#222" stroke-width="1.15"/>
<circle cx="132.1" cy="725" r="5.0" fill="#000" stroke="#000" stroke-width="1.1"/>
<circle cx="129.8" cy="722.7" r="5.0" fill="#fff" stroke="#222" stroke-width="1.15"/>
<circle cx="141.7" cy="713.1" r="5.0" fill="#000" stroke="#000" stroke-width="1.1"/>
<circle cx="139.4" cy="710.8" r="5.0" fill="#fff" stroke="#222" stroke-width="1.15"/>
<circle cx="159.6" cy="634.6" r="5.0" fill="#000" stroke="#000" stroke-width="1.1"/>
<circle cx="157.3" cy="632.3" r="5.0" fill="#fff" stroke="#222" stroke-width="1.15"/>
<circle cx="179.2" cy="553.8" r="5.0" fill="#000" stroke="#000" stroke-width="1.1"/>
<circle cx="176.9" cy="551.5" r="5.0" fill="#fff" stroke="#222" stroke-width="1.15"/>
<circle cx="197.3" cy="502.3" r="5.0" fill="#000" stroke="#000" stroke-width="1.1"/>
<circle cx="195" cy="500" r="5.0" fill="#fff" stroke="#222" stroke-width="1.15"/>
<circle cx="214.9" cy="487.3" r="5.0" fill="#000" stroke="#000" stroke-width="1.1"/>
<circle cx="212.6" cy="485" r="5.0" fill="#fff" stroke="#222" stroke-width="1.15"/>
<circle cx="233.4" cy="492" r="5.0" fill="#000" stroke="#000" stroke-width="1.1"/>
<circle cx="231.1" cy="489.7" r="5.0" fill="#fff" stroke="#222" stroke-width="1.15"/>
<circle cx="249.4" cy="493.7" r="5.0" fill="#000" stroke="#000" stroke-width="1.1"/>
<circle cx="247.1" cy="491.4" r="5.0" fill="#fff" stroke="#222" stroke-width="1.15"/>
<path d="M111,722.6L116.3,732.2L105.7,732.2Z" fill="#000" stroke="#000" stroke-width="1.1" stroke-linejoin="miter"/>
<path d="M108.7,720.3L114,729.9L103.4,729.9Z" fill="#fff" stroke="#222" stroke-width="1.15" stroke-linejoin="miter"/>
<path d="M158.3,711.5L163.6,721.1L153,721.1Z" fill="#000" stroke="#000" stroke-width="1.1" stroke-linejoin="miter"/>
<path d="M156,709.2L161.3,718.8L150.7,718.8Z" fill="#fff" stroke="#222" stroke-width="1.15" stroke-linejoin="miter"/>
<path d="M169.6,670.4L174.9,680L164.3,680Z" fill="#000" stroke="#000" stroke-width="1.1" stroke-linejoin="miter"/>
<path d="M167.3,668.1L172.6,677.7L162,677.7Z" fill="#fff" stroke="#222" stroke-width="1.15" stroke-linejoin="miter"/>
<path d="M180.1,601L185.4,610.6L174.8,610.6Z" fill="#000" stroke="#000" stroke-width="1.1" stroke-linejoin="miter"/>
<path d="M177.8,598.7L183.1,608.3L172.5,608.3Z" fill="#fff" stroke="#222" stroke-width="1.15" stroke-linejoin="miter"/>
<path d="M192,556.7L197.3,566.3L186.7,566.3Z" fill="#000" stroke="#000" stroke-width="1.1" stroke-linejoin="miter"/>
<path d="M189.7,554.4L195,564L184.4,564Z" fill="#fff" stroke="#222" stroke-width="1.15" stroke-linejoin="miter"/>
<path d="M204.9,508.4L210.2,518L199.6,518Z" fill="#000" stroke="#000" stroke-width="1.1" stroke-linejoin="miter"/>
<path d="M202.6,506.1L207.9,515.7L197.3,515.7Z" fill="#fff" stroke="#222" stroke-width="1.15" stroke-linejoin="miter"/>
<path d="M214.9,500.5L220.2,510.1L209.6,510.1Z" fill="#000" stroke="#000" stroke-width="1.1" stroke-linejoin="miter"/>
<path d="M212.6,498.2L217.9,507.8L207.3,507.8Z" fill="#fff" stroke="#222" stroke-width="1.15" stroke-linejoin="miter"/>
<path d="M226.4,487.8L231.7,497.4L221.1,497.4Z" fill="#000" stroke="#000" stroke-width="1.1" stroke-linejoin="miter"/>
<path d="M224.1,485.5L229.4,495.1L218.8,495.1Z" fill="#fff" stroke="#222" stroke-width="1.15" stroke-linejoin="miter"/>
<rect x="534.1" y="599.9" width="10.8" height="10.8" fill="#fff" stroke="#111" stroke-width="1.15"/>
<text x="558.06" y="611.4" font-size="17.14" textLength="28.47" lengthAdjust="spacingAndGlyphs">13S</text>
<path d="M539.5,631.2L545.7,637.4L539.5,643.6L533.3,637.4Z" fill="#fff" stroke="#111" stroke-width="1.15"/>
<text x="558.06" y="643.5" font-size="17.14" textLength="28.47" lengthAdjust="spacingAndGlyphs">14S</text>
<circle cx="539.5" cy="670" r="5.0" fill="#fff" stroke="#111" stroke-width="1.15"/>
<text x="558.06" y="676.1" font-size="17.14" textLength="28.47" lengthAdjust="spacingAndGlyphs">15S</text>
<path d="M539.5,697.2L545.2,707.4L533.8,707.4Z" fill="#fff" stroke="#111" stroke-width="1.15" stroke-linejoin="miter"/>
<text x="558.06" y="708.7" font-size="17.14" textLength="28.47" lengthAdjust="spacingAndGlyphs">16S</text>
</svg>
</body></html>
